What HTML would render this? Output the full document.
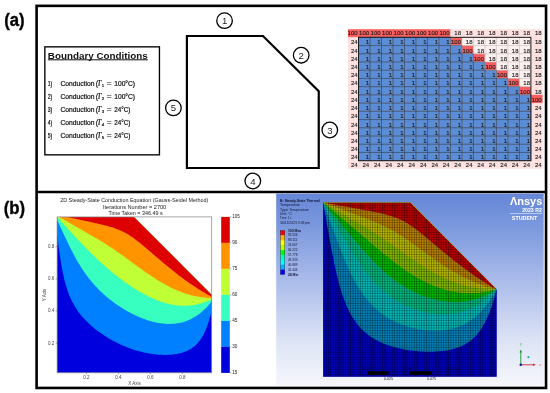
<!DOCTYPE html>
<html><head><meta charset="utf-8"><style>
html,body{margin:0;padding:0;background:#fff;}
body{width:550px;height:393px;overflow:hidden;position:relative;}
svg{position:absolute;left:0;top:0;will-change:transform;}
</style></head><body>
<svg width="550" height="393" viewBox="0 0 550 393">
<rect x="36.6" y="5.85" width="509.45" height="382.1" fill="none" stroke="#000" stroke-width="2.6"/>
<line x1="36" y1="192.0" x2="546" y2="192.0" stroke="#000" stroke-width="2.6"/>
<text x="4.2" y="25.6" font-family="'Liberation Sans', sans-serif" font-weight="bold" font-size="17.5" stroke="#000" stroke-width="0.35" textLength="20.4" lengthAdjust="spacingAndGlyphs">(a)</text>
<text x="3.8" y="213.7" font-family="'Liberation Sans', sans-serif" font-weight="bold" font-size="17.5" stroke="#000" stroke-width="0.35" textLength="21.4" lengthAdjust="spacingAndGlyphs">(b)</text>
<rect x="44.85" y="46.85" width="114.6" height="108" fill="#fff" stroke="#000" stroke-width="1.35"/>
<text x="47.8" y="58.7" font-family="'Liberation Sans', sans-serif" font-weight="bold" font-size="9.6" fill="#111" textLength="100" lengthAdjust="spacingAndGlyphs">Boundary Conditions</text>
<rect x="47.8" y="59.3" width="100" height="1" fill="#111"/>
<g font-family="'Liberation Sans', sans-serif" font-size="6.5" fill="#111" stroke="#111" stroke-width="0.2">
<text x="47.7" y="85.8" textLength="4.5" lengthAdjust="spacingAndGlyphs">1)</text>
<text x="60.4" y="85.8" textLength="34" lengthAdjust="spacingAndGlyphs">Conduction</text>
<text x="95.7" y="85.8">(</text>
<text x="96.9" y="85.8" font-family="'Liberation Serif', serif" font-style="italic" font-size="7.6">T</text>
<text x="101.8" y="87.2" font-size="4.4">1</text>
<text x="106.8" y="85.8" textLength="4.8" lengthAdjust="spacingAndGlyphs">=</text>
<text x="114.2" y="85.8" textLength="20.9" lengthAdjust="spacingAndGlyphs">100°C)</text>
</g>
<g font-family="'Liberation Sans', sans-serif" font-size="6.5" fill="#111" stroke="#111" stroke-width="0.2">
<text x="47.7" y="98.8" textLength="4.5" lengthAdjust="spacingAndGlyphs">2)</text>
<text x="60.4" y="98.8" textLength="34" lengthAdjust="spacingAndGlyphs">Conduction</text>
<text x="95.7" y="98.8">(</text>
<text x="96.9" y="98.8" font-family="'Liberation Serif', serif" font-style="italic" font-size="7.6">T</text>
<text x="101.8" y="100.2" font-size="4.4">2</text>
<text x="106.8" y="98.8" textLength="4.8" lengthAdjust="spacingAndGlyphs">=</text>
<text x="114.2" y="98.8" textLength="20.9" lengthAdjust="spacingAndGlyphs">100°C)</text>
</g>
<g font-family="'Liberation Sans', sans-serif" font-size="6.5" fill="#111" stroke="#111" stroke-width="0.2">
<text x="47.7" y="111.8" textLength="4.5" lengthAdjust="spacingAndGlyphs">3)</text>
<text x="60.4" y="111.8" textLength="34" lengthAdjust="spacingAndGlyphs">Conduction</text>
<text x="95.7" y="111.8">(</text>
<text x="96.9" y="111.8" font-family="'Liberation Serif', serif" font-style="italic" font-size="7.6">T</text>
<text x="101.8" y="113.2" font-size="4.4">3</text>
<text x="106.8" y="111.8" textLength="4.8" lengthAdjust="spacingAndGlyphs">=</text>
<text x="114.2" y="111.8" textLength="16.2" lengthAdjust="spacingAndGlyphs">24°C)</text>
</g>
<g font-family="'Liberation Sans', sans-serif" font-size="6.5" fill="#111" stroke="#111" stroke-width="0.2">
<text x="47.7" y="124.8" textLength="4.5" lengthAdjust="spacingAndGlyphs">4)</text>
<text x="60.4" y="124.8" textLength="34" lengthAdjust="spacingAndGlyphs">Conduction</text>
<text x="95.7" y="124.8">(</text>
<text x="96.9" y="124.8" font-family="'Liberation Serif', serif" font-style="italic" font-size="7.6">T</text>
<text x="101.8" y="126.2" font-size="4.4">4</text>
<text x="106.8" y="124.8" textLength="4.8" lengthAdjust="spacingAndGlyphs">=</text>
<text x="114.2" y="124.8" textLength="16.2" lengthAdjust="spacingAndGlyphs">24°C)</text>
</g>
<g font-family="'Liberation Sans', sans-serif" font-size="6.5" fill="#111" stroke="#111" stroke-width="0.2">
<text x="47.7" y="137.8" textLength="4.5" lengthAdjust="spacingAndGlyphs">5)</text>
<text x="60.4" y="137.8" textLength="34" lengthAdjust="spacingAndGlyphs">Conduction</text>
<text x="95.7" y="137.8">(</text>
<text x="96.9" y="137.8" font-family="'Liberation Serif', serif" font-style="italic" font-size="7.6">T</text>
<text x="101.8" y="139.2" font-size="4.4">5</text>
<text x="106.8" y="137.8" textLength="4.8" lengthAdjust="spacingAndGlyphs">=</text>
<text x="114.2" y="137.8" textLength="16.2" lengthAdjust="spacingAndGlyphs">24°C)</text>
</g>
<polygon points="186.9,36 263,36 318.75,91.3 318.75,168.0 186.9,168.0" fill="none" stroke="#000" stroke-width="2.2" stroke-linejoin="miter"/>
<circle cx="224.55" cy="20.65" r="7.8" fill="none" stroke="#000" stroke-width="1.3"/>
<text x="224.55" y="24.1" font-family="'Liberation Sans', sans-serif" font-size="9.6" text-anchor="middle" fill="#222">1</text>
<circle cx="301.2" cy="55.2" r="7.8" fill="none" stroke="#000" stroke-width="1.3"/>
<text x="301.2" y="58.7" font-family="'Liberation Sans', sans-serif" font-size="9.6" text-anchor="middle" fill="#222">2</text>
<circle cx="329.8" cy="130" r="7.8" fill="none" stroke="#000" stroke-width="1.3"/>
<text x="329.8" y="133.5" font-family="'Liberation Sans', sans-serif" font-size="9.6" text-anchor="middle" fill="#222">3</text>
<circle cx="252.8" cy="181" r="7.8" fill="none" stroke="#000" stroke-width="1.3"/>
<text x="252.8" y="184.5" font-family="'Liberation Sans', sans-serif" font-size="9.6" text-anchor="middle" fill="#222">4</text>
<circle cx="173.4" cy="107.9" r="7.8" fill="none" stroke="#000" stroke-width="1.3"/>
<text x="173.4" y="111.4" font-family="'Liberation Sans', sans-serif" font-size="9.6" text-anchor="middle" fill="#222">5</text>
<rect x="348.00" y="29.20" width="10.85" height="8.45" fill="#fa5e5e"/><rect x="358.50" y="29.20" width="11.84" height="8.45" fill="#fa5e5e"/><rect x="369.99" y="29.20" width="11.84" height="8.45" fill="#fa5e5e"/><rect x="381.49" y="29.20" width="11.84" height="8.45" fill="#fa5e5e"/><rect x="392.98" y="29.20" width="11.84" height="8.45" fill="#fa5e5e"/><rect x="404.47" y="29.20" width="11.84" height="8.45" fill="#fa5e5e"/><rect x="415.97" y="29.20" width="11.84" height="8.45" fill="#fa5e5e"/><rect x="427.46" y="29.20" width="11.84" height="8.45" fill="#fa5e5e"/><rect x="438.95" y="29.20" width="11.84" height="8.45" fill="#fa5e5e"/><rect x="450.44" y="29.20" width="11.84" height="8.45" fill="#fde0e0"/><rect x="461.94" y="29.20" width="11.84" height="8.45" fill="#fde0e0"/><rect x="473.43" y="29.20" width="11.84" height="8.45" fill="#fde0e0"/><rect x="484.92" y="29.20" width="11.84" height="8.45" fill="#fde0e0"/><rect x="496.42" y="29.20" width="11.84" height="8.45" fill="#fde0e0"/><rect x="507.91" y="29.20" width="11.84" height="8.45" fill="#fde0e0"/><rect x="519.40" y="29.20" width="11.85" height="8.45" fill="#fde0e0"/><rect x="530.90" y="29.20" width="11.70" height="8.45" fill="#fde0e0"/><rect x="348.00" y="37.30" width="10.85" height="8.58" fill="#fde0e0"/><rect x="358.50" y="37.30" width="11.84" height="8.58" fill="#5b8dd6"/><rect x="369.99" y="37.30" width="11.84" height="8.58" fill="#5b8dd6"/><rect x="381.49" y="37.30" width="11.84" height="8.58" fill="#5b8dd6"/><rect x="392.98" y="37.30" width="11.84" height="8.58" fill="#5b8dd6"/><rect x="404.47" y="37.30" width="11.84" height="8.58" fill="#5b8dd6"/><rect x="415.97" y="37.30" width="11.84" height="8.58" fill="#5b8dd6"/><rect x="427.46" y="37.30" width="11.84" height="8.58" fill="#5b8dd6"/><rect x="438.95" y="37.30" width="11.84" height="8.58" fill="#5b8dd6"/><rect x="450.44" y="37.30" width="11.84" height="8.58" fill="#fa5e5e"/><rect x="461.94" y="37.30" width="11.84" height="8.58" fill="#fdf0f0"/><rect x="473.43" y="37.30" width="11.84" height="8.58" fill="#fdf0f0"/><rect x="484.92" y="37.30" width="11.84" height="8.58" fill="#fdf0f0"/><rect x="496.42" y="37.30" width="11.84" height="8.58" fill="#fdf0f0"/><rect x="507.91" y="37.30" width="11.84" height="8.58" fill="#fdf0f0"/><rect x="519.40" y="37.30" width="11.85" height="8.58" fill="#fdf0f0"/><rect x="530.90" y="37.30" width="11.70" height="8.58" fill="#fde0e0"/><rect x="348.00" y="45.53" width="10.85" height="8.58" fill="#fde0e0"/><rect x="358.50" y="45.53" width="11.84" height="8.58" fill="#5b8dd6"/><rect x="369.99" y="45.53" width="11.84" height="8.58" fill="#5b8dd6"/><rect x="381.49" y="45.53" width="11.84" height="8.58" fill="#5b8dd6"/><rect x="392.98" y="45.53" width="11.84" height="8.58" fill="#5b8dd6"/><rect x="404.47" y="45.53" width="11.84" height="8.58" fill="#5b8dd6"/><rect x="415.97" y="45.53" width="11.84" height="8.58" fill="#5b8dd6"/><rect x="427.46" y="45.53" width="11.84" height="8.58" fill="#5b8dd6"/><rect x="438.95" y="45.53" width="11.84" height="8.58" fill="#5b8dd6"/><rect x="450.44" y="45.53" width="11.84" height="8.58" fill="#5b8dd6"/><rect x="461.94" y="45.53" width="11.84" height="8.58" fill="#fa5e5e"/><rect x="473.43" y="45.53" width="11.84" height="8.58" fill="#fdf0f0"/><rect x="484.92" y="45.53" width="11.84" height="8.58" fill="#fdf0f0"/><rect x="496.42" y="45.53" width="11.84" height="8.58" fill="#fdf0f0"/><rect x="507.91" y="45.53" width="11.84" height="8.58" fill="#fdf0f0"/><rect x="519.40" y="45.53" width="11.85" height="8.58" fill="#fdf0f0"/><rect x="530.90" y="45.53" width="11.70" height="8.58" fill="#fde0e0"/><rect x="348.00" y="53.75" width="10.85" height="8.58" fill="#fde0e0"/><rect x="358.50" y="53.75" width="11.84" height="8.58" fill="#5b8dd6"/><rect x="369.99" y="53.75" width="11.84" height="8.58" fill="#5b8dd6"/><rect x="381.49" y="53.75" width="11.84" height="8.58" fill="#5b8dd6"/><rect x="392.98" y="53.75" width="11.84" height="8.58" fill="#5b8dd6"/><rect x="404.47" y="53.75" width="11.84" height="8.58" fill="#5b8dd6"/><rect x="415.97" y="53.75" width="11.84" height="8.58" fill="#5b8dd6"/><rect x="427.46" y="53.75" width="11.84" height="8.58" fill="#5b8dd6"/><rect x="438.95" y="53.75" width="11.84" height="8.58" fill="#5b8dd6"/><rect x="450.44" y="53.75" width="11.84" height="8.58" fill="#5b8dd6"/><rect x="461.94" y="53.75" width="11.84" height="8.58" fill="#5b8dd6"/><rect x="473.43" y="53.75" width="11.84" height="8.58" fill="#fa5e5e"/><rect x="484.92" y="53.75" width="11.84" height="8.58" fill="#fdf0f0"/><rect x="496.42" y="53.75" width="11.84" height="8.58" fill="#fdf0f0"/><rect x="507.91" y="53.75" width="11.84" height="8.58" fill="#fdf0f0"/><rect x="519.40" y="53.75" width="11.85" height="8.58" fill="#fdf0f0"/><rect x="530.90" y="53.75" width="11.70" height="8.58" fill="#fde0e0"/><rect x="348.00" y="61.98" width="10.85" height="8.58" fill="#fde0e0"/><rect x="358.50" y="61.98" width="11.84" height="8.58" fill="#5b8dd6"/><rect x="369.99" y="61.98" width="11.84" height="8.58" fill="#5b8dd6"/><rect x="381.49" y="61.98" width="11.84" height="8.58" fill="#5b8dd6"/><rect x="392.98" y="61.98" width="11.84" height="8.58" fill="#5b8dd6"/><rect x="404.47" y="61.98" width="11.84" height="8.58" fill="#5b8dd6"/><rect x="415.97" y="61.98" width="11.84" height="8.58" fill="#5b8dd6"/><rect x="427.46" y="61.98" width="11.84" height="8.58" fill="#5b8dd6"/><rect x="438.95" y="61.98" width="11.84" height="8.58" fill="#5b8dd6"/><rect x="450.44" y="61.98" width="11.84" height="8.58" fill="#5b8dd6"/><rect x="461.94" y="61.98" width="11.84" height="8.58" fill="#5b8dd6"/><rect x="473.43" y="61.98" width="11.84" height="8.58" fill="#5b8dd6"/><rect x="484.92" y="61.98" width="11.84" height="8.58" fill="#fa5e5e"/><rect x="496.42" y="61.98" width="11.84" height="8.58" fill="#fdf0f0"/><rect x="507.91" y="61.98" width="11.84" height="8.58" fill="#fdf0f0"/><rect x="519.40" y="61.98" width="11.85" height="8.58" fill="#fdf0f0"/><rect x="530.90" y="61.98" width="11.70" height="8.58" fill="#fde0e0"/><rect x="348.00" y="70.21" width="10.85" height="8.58" fill="#fde0e0"/><rect x="358.50" y="70.21" width="11.84" height="8.58" fill="#5b8dd6"/><rect x="369.99" y="70.21" width="11.84" height="8.58" fill="#5b8dd6"/><rect x="381.49" y="70.21" width="11.84" height="8.58" fill="#5b8dd6"/><rect x="392.98" y="70.21" width="11.84" height="8.58" fill="#5b8dd6"/><rect x="404.47" y="70.21" width="11.84" height="8.58" fill="#5b8dd6"/><rect x="415.97" y="70.21" width="11.84" height="8.58" fill="#5b8dd6"/><rect x="427.46" y="70.21" width="11.84" height="8.58" fill="#5b8dd6"/><rect x="438.95" y="70.21" width="11.84" height="8.58" fill="#5b8dd6"/><rect x="450.44" y="70.21" width="11.84" height="8.58" fill="#5b8dd6"/><rect x="461.94" y="70.21" width="11.84" height="8.58" fill="#5b8dd6"/><rect x="473.43" y="70.21" width="11.84" height="8.58" fill="#5b8dd6"/><rect x="484.92" y="70.21" width="11.84" height="8.58" fill="#5b8dd6"/><rect x="496.42" y="70.21" width="11.84" height="8.58" fill="#fa5e5e"/><rect x="507.91" y="70.21" width="11.84" height="8.58" fill="#fdf0f0"/><rect x="519.40" y="70.21" width="11.85" height="8.58" fill="#fdf0f0"/><rect x="530.90" y="70.21" width="11.70" height="8.58" fill="#fde0e0"/><rect x="348.00" y="78.44" width="10.85" height="8.58" fill="#fde0e0"/><rect x="358.50" y="78.44" width="11.84" height="8.58" fill="#5b8dd6"/><rect x="369.99" y="78.44" width="11.84" height="8.58" fill="#5b8dd6"/><rect x="381.49" y="78.44" width="11.84" height="8.58" fill="#5b8dd6"/><rect x="392.98" y="78.44" width="11.84" height="8.58" fill="#5b8dd6"/><rect x="404.47" y="78.44" width="11.84" height="8.58" fill="#5b8dd6"/><rect x="415.97" y="78.44" width="11.84" height="8.58" fill="#5b8dd6"/><rect x="427.46" y="78.44" width="11.84" height="8.58" fill="#5b8dd6"/><rect x="438.95" y="78.44" width="11.84" height="8.58" fill="#5b8dd6"/><rect x="450.44" y="78.44" width="11.84" height="8.58" fill="#5b8dd6"/><rect x="461.94" y="78.44" width="11.84" height="8.58" fill="#5b8dd6"/><rect x="473.43" y="78.44" width="11.84" height="8.58" fill="#5b8dd6"/><rect x="484.92" y="78.44" width="11.84" height="8.58" fill="#5b8dd6"/><rect x="496.42" y="78.44" width="11.84" height="8.58" fill="#5b8dd6"/><rect x="507.91" y="78.44" width="11.84" height="8.58" fill="#fa5e5e"/><rect x="519.40" y="78.44" width="11.85" height="8.58" fill="#fdf0f0"/><rect x="530.90" y="78.44" width="11.70" height="8.58" fill="#fde0e0"/><rect x="348.00" y="86.66" width="10.85" height="8.58" fill="#fde0e0"/><rect x="358.50" y="86.66" width="11.84" height="8.58" fill="#5b8dd6"/><rect x="369.99" y="86.66" width="11.84" height="8.58" fill="#5b8dd6"/><rect x="381.49" y="86.66" width="11.84" height="8.58" fill="#5b8dd6"/><rect x="392.98" y="86.66" width="11.84" height="8.58" fill="#5b8dd6"/><rect x="404.47" y="86.66" width="11.84" height="8.58" fill="#5b8dd6"/><rect x="415.97" y="86.66" width="11.84" height="8.58" fill="#5b8dd6"/><rect x="427.46" y="86.66" width="11.84" height="8.58" fill="#5b8dd6"/><rect x="438.95" y="86.66" width="11.84" height="8.58" fill="#5b8dd6"/><rect x="450.44" y="86.66" width="11.84" height="8.58" fill="#5b8dd6"/><rect x="461.94" y="86.66" width="11.84" height="8.58" fill="#5b8dd6"/><rect x="473.43" y="86.66" width="11.84" height="8.58" fill="#5b8dd6"/><rect x="484.92" y="86.66" width="11.84" height="8.58" fill="#5b8dd6"/><rect x="496.42" y="86.66" width="11.84" height="8.58" fill="#5b8dd6"/><rect x="507.91" y="86.66" width="11.84" height="8.58" fill="#5b8dd6"/><rect x="519.40" y="86.66" width="11.85" height="8.58" fill="#fa5e5e"/><rect x="530.90" y="86.66" width="11.70" height="8.58" fill="#fde0e0"/><rect x="348.00" y="94.89" width="10.85" height="8.58" fill="#fde0e0"/><rect x="358.50" y="94.89" width="11.84" height="8.58" fill="#5b8dd6"/><rect x="369.99" y="94.89" width="11.84" height="8.58" fill="#5b8dd6"/><rect x="381.49" y="94.89" width="11.84" height="8.58" fill="#5b8dd6"/><rect x="392.98" y="94.89" width="11.84" height="8.58" fill="#5b8dd6"/><rect x="404.47" y="94.89" width="11.84" height="8.58" fill="#5b8dd6"/><rect x="415.97" y="94.89" width="11.84" height="8.58" fill="#5b8dd6"/><rect x="427.46" y="94.89" width="11.84" height="8.58" fill="#5b8dd6"/><rect x="438.95" y="94.89" width="11.84" height="8.58" fill="#5b8dd6"/><rect x="450.44" y="94.89" width="11.84" height="8.58" fill="#5b8dd6"/><rect x="461.94" y="94.89" width="11.84" height="8.58" fill="#5b8dd6"/><rect x="473.43" y="94.89" width="11.84" height="8.58" fill="#5b8dd6"/><rect x="484.92" y="94.89" width="11.84" height="8.58" fill="#5b8dd6"/><rect x="496.42" y="94.89" width="11.84" height="8.58" fill="#5b8dd6"/><rect x="507.91" y="94.89" width="11.84" height="8.58" fill="#5b8dd6"/><rect x="519.40" y="94.89" width="11.85" height="8.58" fill="#5b8dd6"/><rect x="530.90" y="94.89" width="11.70" height="8.58" fill="#fa5e5e"/><rect x="348.00" y="103.12" width="10.85" height="8.58" fill="#fde0e0"/><rect x="358.50" y="103.12" width="11.84" height="8.58" fill="#5b8dd6"/><rect x="369.99" y="103.12" width="11.84" height="8.58" fill="#5b8dd6"/><rect x="381.49" y="103.12" width="11.84" height="8.58" fill="#5b8dd6"/><rect x="392.98" y="103.12" width="11.84" height="8.58" fill="#5b8dd6"/><rect x="404.47" y="103.12" width="11.84" height="8.58" fill="#5b8dd6"/><rect x="415.97" y="103.12" width="11.84" height="8.58" fill="#5b8dd6"/><rect x="427.46" y="103.12" width="11.84" height="8.58" fill="#5b8dd6"/><rect x="438.95" y="103.12" width="11.84" height="8.58" fill="#5b8dd6"/><rect x="450.44" y="103.12" width="11.84" height="8.58" fill="#5b8dd6"/><rect x="461.94" y="103.12" width="11.84" height="8.58" fill="#5b8dd6"/><rect x="473.43" y="103.12" width="11.84" height="8.58" fill="#5b8dd6"/><rect x="484.92" y="103.12" width="11.84" height="8.58" fill="#5b8dd6"/><rect x="496.42" y="103.12" width="11.84" height="8.58" fill="#5b8dd6"/><rect x="507.91" y="103.12" width="11.84" height="8.58" fill="#5b8dd6"/><rect x="519.40" y="103.12" width="11.85" height="8.58" fill="#5b8dd6"/><rect x="530.90" y="103.12" width="11.70" height="8.58" fill="#fde0e0"/><rect x="348.00" y="111.34" width="10.85" height="8.58" fill="#fde0e0"/><rect x="358.50" y="111.34" width="11.84" height="8.58" fill="#5b8dd6"/><rect x="369.99" y="111.34" width="11.84" height="8.58" fill="#5b8dd6"/><rect x="381.49" y="111.34" width="11.84" height="8.58" fill="#5b8dd6"/><rect x="392.98" y="111.34" width="11.84" height="8.58" fill="#5b8dd6"/><rect x="404.47" y="111.34" width="11.84" height="8.58" fill="#5b8dd6"/><rect x="415.97" y="111.34" width="11.84" height="8.58" fill="#5b8dd6"/><rect x="427.46" y="111.34" width="11.84" height="8.58" fill="#5b8dd6"/><rect x="438.95" y="111.34" width="11.84" height="8.58" fill="#5b8dd6"/><rect x="450.44" y="111.34" width="11.84" height="8.58" fill="#5b8dd6"/><rect x="461.94" y="111.34" width="11.84" height="8.58" fill="#5b8dd6"/><rect x="473.43" y="111.34" width="11.84" height="8.58" fill="#5b8dd6"/><rect x="484.92" y="111.34" width="11.84" height="8.58" fill="#5b8dd6"/><rect x="496.42" y="111.34" width="11.84" height="8.58" fill="#5b8dd6"/><rect x="507.91" y="111.34" width="11.84" height="8.58" fill="#5b8dd6"/><rect x="519.40" y="111.34" width="11.85" height="8.58" fill="#5b8dd6"/><rect x="530.90" y="111.34" width="11.70" height="8.58" fill="#fde0e0"/><rect x="348.00" y="119.57" width="10.85" height="8.58" fill="#fde0e0"/><rect x="358.50" y="119.57" width="11.84" height="8.58" fill="#5b8dd6"/><rect x="369.99" y="119.57" width="11.84" height="8.58" fill="#5b8dd6"/><rect x="381.49" y="119.57" width="11.84" height="8.58" fill="#5b8dd6"/><rect x="392.98" y="119.57" width="11.84" height="8.58" fill="#5b8dd6"/><rect x="404.47" y="119.57" width="11.84" height="8.58" fill="#5b8dd6"/><rect x="415.97" y="119.57" width="11.84" height="8.58" fill="#5b8dd6"/><rect x="427.46" y="119.57" width="11.84" height="8.58" fill="#5b8dd6"/><rect x="438.95" y="119.57" width="11.84" height="8.58" fill="#5b8dd6"/><rect x="450.44" y="119.57" width="11.84" height="8.58" fill="#5b8dd6"/><rect x="461.94" y="119.57" width="11.84" height="8.58" fill="#5b8dd6"/><rect x="473.43" y="119.57" width="11.84" height="8.58" fill="#5b8dd6"/><rect x="484.92" y="119.57" width="11.84" height="8.58" fill="#5b8dd6"/><rect x="496.42" y="119.57" width="11.84" height="8.58" fill="#5b8dd6"/><rect x="507.91" y="119.57" width="11.84" height="8.58" fill="#5b8dd6"/><rect x="519.40" y="119.57" width="11.85" height="8.58" fill="#5b8dd6"/><rect x="530.90" y="119.57" width="11.70" height="8.58" fill="#fde0e0"/><rect x="348.00" y="127.80" width="10.85" height="8.58" fill="#fde0e0"/><rect x="358.50" y="127.80" width="11.84" height="8.58" fill="#5b8dd6"/><rect x="369.99" y="127.80" width="11.84" height="8.58" fill="#5b8dd6"/><rect x="381.49" y="127.80" width="11.84" height="8.58" fill="#5b8dd6"/><rect x="392.98" y="127.80" width="11.84" height="8.58" fill="#5b8dd6"/><rect x="404.47" y="127.80" width="11.84" height="8.58" fill="#5b8dd6"/><rect x="415.97" y="127.80" width="11.84" height="8.58" fill="#5b8dd6"/><rect x="427.46" y="127.80" width="11.84" height="8.58" fill="#5b8dd6"/><rect x="438.95" y="127.80" width="11.84" height="8.58" fill="#5b8dd6"/><rect x="450.44" y="127.80" width="11.84" height="8.58" fill="#5b8dd6"/><rect x="461.94" y="127.80" width="11.84" height="8.58" fill="#5b8dd6"/><rect x="473.43" y="127.80" width="11.84" height="8.58" fill="#5b8dd6"/><rect x="484.92" y="127.80" width="11.84" height="8.58" fill="#5b8dd6"/><rect x="496.42" y="127.80" width="11.84" height="8.58" fill="#5b8dd6"/><rect x="507.91" y="127.80" width="11.84" height="8.58" fill="#5b8dd6"/><rect x="519.40" y="127.80" width="11.85" height="8.58" fill="#5b8dd6"/><rect x="530.90" y="127.80" width="11.70" height="8.58" fill="#fde0e0"/><rect x="348.00" y="136.02" width="10.85" height="8.58" fill="#fde0e0"/><rect x="358.50" y="136.02" width="11.84" height="8.58" fill="#5b8dd6"/><rect x="369.99" y="136.02" width="11.84" height="8.58" fill="#5b8dd6"/><rect x="381.49" y="136.02" width="11.84" height="8.58" fill="#5b8dd6"/><rect x="392.98" y="136.02" width="11.84" height="8.58" fill="#5b8dd6"/><rect x="404.47" y="136.02" width="11.84" height="8.58" fill="#5b8dd6"/><rect x="415.97" y="136.02" width="11.84" height="8.58" fill="#5b8dd6"/><rect x="427.46" y="136.02" width="11.84" height="8.58" fill="#5b8dd6"/><rect x="438.95" y="136.02" width="11.84" height="8.58" fill="#5b8dd6"/><rect x="450.44" y="136.02" width="11.84" height="8.58" fill="#5b8dd6"/><rect x="461.94" y="136.02" width="11.84" height="8.58" fill="#5b8dd6"/><rect x="473.43" y="136.02" width="11.84" height="8.58" fill="#5b8dd6"/><rect x="484.92" y="136.02" width="11.84" height="8.58" fill="#5b8dd6"/><rect x="496.42" y="136.02" width="11.84" height="8.58" fill="#5b8dd6"/><rect x="507.91" y="136.02" width="11.84" height="8.58" fill="#5b8dd6"/><rect x="519.40" y="136.02" width="11.85" height="8.58" fill="#5b8dd6"/><rect x="530.90" y="136.02" width="11.70" height="8.58" fill="#fde0e0"/><rect x="348.00" y="144.25" width="10.85" height="8.58" fill="#fde0e0"/><rect x="358.50" y="144.25" width="11.84" height="8.58" fill="#5b8dd6"/><rect x="369.99" y="144.25" width="11.84" height="8.58" fill="#5b8dd6"/><rect x="381.49" y="144.25" width="11.84" height="8.58" fill="#5b8dd6"/><rect x="392.98" y="144.25" width="11.84" height="8.58" fill="#5b8dd6"/><rect x="404.47" y="144.25" width="11.84" height="8.58" fill="#5b8dd6"/><rect x="415.97" y="144.25" width="11.84" height="8.58" fill="#5b8dd6"/><rect x="427.46" y="144.25" width="11.84" height="8.58" fill="#5b8dd6"/><rect x="438.95" y="144.25" width="11.84" height="8.58" fill="#5b8dd6"/><rect x="450.44" y="144.25" width="11.84" height="8.58" fill="#5b8dd6"/><rect x="461.94" y="144.25" width="11.84" height="8.58" fill="#5b8dd6"/><rect x="473.43" y="144.25" width="11.84" height="8.58" fill="#5b8dd6"/><rect x="484.92" y="144.25" width="11.84" height="8.58" fill="#5b8dd6"/><rect x="496.42" y="144.25" width="11.84" height="8.58" fill="#5b8dd6"/><rect x="507.91" y="144.25" width="11.84" height="8.58" fill="#5b8dd6"/><rect x="519.40" y="144.25" width="11.85" height="8.58" fill="#5b8dd6"/><rect x="530.90" y="144.25" width="11.70" height="8.58" fill="#fde0e0"/><rect x="348.00" y="152.48" width="10.85" height="8.57" fill="#fde0e0"/><rect x="358.50" y="152.48" width="11.84" height="8.57" fill="#5b8dd6"/><rect x="369.99" y="152.48" width="11.84" height="8.57" fill="#5b8dd6"/><rect x="381.49" y="152.48" width="11.84" height="8.57" fill="#5b8dd6"/><rect x="392.98" y="152.48" width="11.84" height="8.57" fill="#5b8dd6"/><rect x="404.47" y="152.48" width="11.84" height="8.57" fill="#5b8dd6"/><rect x="415.97" y="152.48" width="11.84" height="8.57" fill="#5b8dd6"/><rect x="427.46" y="152.48" width="11.84" height="8.57" fill="#5b8dd6"/><rect x="438.95" y="152.48" width="11.84" height="8.57" fill="#5b8dd6"/><rect x="450.44" y="152.48" width="11.84" height="8.57" fill="#5b8dd6"/><rect x="461.94" y="152.48" width="11.84" height="8.57" fill="#5b8dd6"/><rect x="473.43" y="152.48" width="11.84" height="8.57" fill="#5b8dd6"/><rect x="484.92" y="152.48" width="11.84" height="8.57" fill="#5b8dd6"/><rect x="496.42" y="152.48" width="11.84" height="8.57" fill="#5b8dd6"/><rect x="507.91" y="152.48" width="11.84" height="8.57" fill="#5b8dd6"/><rect x="519.40" y="152.48" width="11.85" height="8.57" fill="#5b8dd6"/><rect x="530.90" y="152.48" width="11.70" height="8.57" fill="#fde0e0"/><rect x="348.00" y="160.70" width="10.85" height="8.00" fill="#fde0e0"/><rect x="358.50" y="160.70" width="11.84" height="8.00" fill="#fde0e0"/><rect x="369.99" y="160.70" width="11.84" height="8.00" fill="#fde0e0"/><rect x="381.49" y="160.70" width="11.84" height="8.00" fill="#fde0e0"/><rect x="392.98" y="160.70" width="11.84" height="8.00" fill="#fde0e0"/><rect x="404.47" y="160.70" width="11.84" height="8.00" fill="#fde0e0"/><rect x="415.97" y="160.70" width="11.84" height="8.00" fill="#fde0e0"/><rect x="427.46" y="160.70" width="11.84" height="8.00" fill="#fde0e0"/><rect x="438.95" y="160.70" width="11.84" height="8.00" fill="#fde0e0"/><rect x="450.44" y="160.70" width="11.84" height="8.00" fill="#fde0e0"/><rect x="461.94" y="160.70" width="11.84" height="8.00" fill="#fde0e0"/><rect x="473.43" y="160.70" width="11.84" height="8.00" fill="#fde0e0"/><rect x="484.92" y="160.70" width="11.84" height="8.00" fill="#fde0e0"/><rect x="496.42" y="160.70" width="11.84" height="8.00" fill="#fde0e0"/><rect x="507.91" y="160.70" width="11.84" height="8.00" fill="#fde0e0"/><rect x="519.40" y="160.70" width="11.85" height="8.00" fill="#fde0e0"/><rect x="530.90" y="160.70" width="11.70" height="8.00" fill="#fde0e0"/>
<path d="M358.50 37.30V160.70M369.99 37.30V160.70M381.49 37.30V160.70M392.98 37.30V160.70M404.47 37.30V160.70M415.97 37.30V160.70M427.46 37.30V160.70M438.95 37.30V160.70M450.44 37.30V160.70M461.94 37.30V160.70M473.43 37.30V160.70M484.92 37.30V160.70M496.42 37.30V160.70M507.91 37.30V160.70M519.40 37.30V160.70M530.90 37.30V160.70M358.50 37.30H530.90M358.50 45.53H530.90M358.50 53.75H530.90M358.50 61.98H530.90M358.50 70.21H530.90M358.50 78.44H530.90M358.50 86.66H530.90M358.50 94.89H530.90M358.50 103.12H530.90M358.50 111.34H530.90M358.50 119.57H530.90M358.50 127.80H530.90M358.50 136.02H530.90M358.50 144.25H530.90M358.50 152.48H530.90M358.50 160.70H530.90" stroke="#c4bcbc" stroke-width="0.6" fill="none"/>
<path d="M358.50 37.30h11.49v8.23h-11.49zM369.99 37.30h11.49v8.23h-11.49zM381.49 37.30h11.49v8.23h-11.49zM392.98 37.30h11.49v8.23h-11.49zM404.47 37.30h11.49v8.23h-11.49zM415.97 37.30h11.49v8.23h-11.49zM427.46 37.30h11.49v8.23h-11.49zM438.95 37.30h11.49v8.23h-11.49zM358.50 45.53h11.49v8.23h-11.49zM369.99 45.53h11.49v8.23h-11.49zM381.49 45.53h11.49v8.23h-11.49zM392.98 45.53h11.49v8.23h-11.49zM404.47 45.53h11.49v8.23h-11.49zM415.97 45.53h11.49v8.23h-11.49zM427.46 45.53h11.49v8.23h-11.49zM438.95 45.53h11.49v8.23h-11.49zM450.44 45.53h11.49v8.23h-11.49zM358.50 53.75h11.49v8.23h-11.49zM369.99 53.75h11.49v8.23h-11.49zM381.49 53.75h11.49v8.23h-11.49zM392.98 53.75h11.49v8.23h-11.49zM404.47 53.75h11.49v8.23h-11.49zM415.97 53.75h11.49v8.23h-11.49zM427.46 53.75h11.49v8.23h-11.49zM438.95 53.75h11.49v8.23h-11.49zM450.44 53.75h11.49v8.23h-11.49zM461.94 53.75h11.49v8.23h-11.49zM358.50 61.98h11.49v8.23h-11.49zM369.99 61.98h11.49v8.23h-11.49zM381.49 61.98h11.49v8.23h-11.49zM392.98 61.98h11.49v8.23h-11.49zM404.47 61.98h11.49v8.23h-11.49zM415.97 61.98h11.49v8.23h-11.49zM427.46 61.98h11.49v8.23h-11.49zM438.95 61.98h11.49v8.23h-11.49zM450.44 61.98h11.49v8.23h-11.49zM461.94 61.98h11.49v8.23h-11.49zM473.43 61.98h11.49v8.23h-11.49zM358.50 70.21h11.49v8.23h-11.49zM369.99 70.21h11.49v8.23h-11.49zM381.49 70.21h11.49v8.23h-11.49zM392.98 70.21h11.49v8.23h-11.49zM404.47 70.21h11.49v8.23h-11.49zM415.97 70.21h11.49v8.23h-11.49zM427.46 70.21h11.49v8.23h-11.49zM438.95 70.21h11.49v8.23h-11.49zM450.44 70.21h11.49v8.23h-11.49zM461.94 70.21h11.49v8.23h-11.49zM473.43 70.21h11.49v8.23h-11.49zM484.92 70.21h11.49v8.23h-11.49zM358.50 78.44h11.49v8.23h-11.49zM369.99 78.44h11.49v8.23h-11.49zM381.49 78.44h11.49v8.23h-11.49zM392.98 78.44h11.49v8.23h-11.49zM404.47 78.44h11.49v8.23h-11.49zM415.97 78.44h11.49v8.23h-11.49zM427.46 78.44h11.49v8.23h-11.49zM438.95 78.44h11.49v8.23h-11.49zM450.44 78.44h11.49v8.23h-11.49zM461.94 78.44h11.49v8.23h-11.49zM473.43 78.44h11.49v8.23h-11.49zM484.92 78.44h11.49v8.23h-11.49zM496.42 78.44h11.49v8.23h-11.49zM358.50 86.66h11.49v8.23h-11.49zM369.99 86.66h11.49v8.23h-11.49zM381.49 86.66h11.49v8.23h-11.49zM392.98 86.66h11.49v8.23h-11.49zM404.47 86.66h11.49v8.23h-11.49zM415.97 86.66h11.49v8.23h-11.49zM427.46 86.66h11.49v8.23h-11.49zM438.95 86.66h11.49v8.23h-11.49zM450.44 86.66h11.49v8.23h-11.49zM461.94 86.66h11.49v8.23h-11.49zM473.43 86.66h11.49v8.23h-11.49zM484.92 86.66h11.49v8.23h-11.49zM496.42 86.66h11.49v8.23h-11.49zM507.91 86.66h11.49v8.23h-11.49zM358.50 94.89h11.49v8.23h-11.49zM369.99 94.89h11.49v8.23h-11.49zM381.49 94.89h11.49v8.23h-11.49zM392.98 94.89h11.49v8.23h-11.49zM404.47 94.89h11.49v8.23h-11.49zM415.97 94.89h11.49v8.23h-11.49zM427.46 94.89h11.49v8.23h-11.49zM438.95 94.89h11.49v8.23h-11.49zM450.44 94.89h11.49v8.23h-11.49zM461.94 94.89h11.49v8.23h-11.49zM473.43 94.89h11.49v8.23h-11.49zM484.92 94.89h11.49v8.23h-11.49zM496.42 94.89h11.49v8.23h-11.49zM507.91 94.89h11.49v8.23h-11.49zM519.40 94.89h11.50v8.23h-11.50zM358.50 103.12h11.49v8.23h-11.49zM369.99 103.12h11.49v8.23h-11.49zM381.49 103.12h11.49v8.23h-11.49zM392.98 103.12h11.49v8.23h-11.49zM404.47 103.12h11.49v8.23h-11.49zM415.97 103.12h11.49v8.23h-11.49zM427.46 103.12h11.49v8.23h-11.49zM438.95 103.12h11.49v8.23h-11.49zM450.44 103.12h11.49v8.23h-11.49zM461.94 103.12h11.49v8.23h-11.49zM473.43 103.12h11.49v8.23h-11.49zM484.92 103.12h11.49v8.23h-11.49zM496.42 103.12h11.49v8.23h-11.49zM507.91 103.12h11.49v8.23h-11.49zM519.40 103.12h11.50v8.23h-11.50zM358.50 111.34h11.49v8.23h-11.49zM369.99 111.34h11.49v8.23h-11.49zM381.49 111.34h11.49v8.23h-11.49zM392.98 111.34h11.49v8.23h-11.49zM404.47 111.34h11.49v8.23h-11.49zM415.97 111.34h11.49v8.23h-11.49zM427.46 111.34h11.49v8.23h-11.49zM438.95 111.34h11.49v8.23h-11.49zM450.44 111.34h11.49v8.23h-11.49zM461.94 111.34h11.49v8.23h-11.49zM473.43 111.34h11.49v8.23h-11.49zM484.92 111.34h11.49v8.23h-11.49zM496.42 111.34h11.49v8.23h-11.49zM507.91 111.34h11.49v8.23h-11.49zM519.40 111.34h11.50v8.23h-11.50zM358.50 119.57h11.49v8.23h-11.49zM369.99 119.57h11.49v8.23h-11.49zM381.49 119.57h11.49v8.23h-11.49zM392.98 119.57h11.49v8.23h-11.49zM404.47 119.57h11.49v8.23h-11.49zM415.97 119.57h11.49v8.23h-11.49zM427.46 119.57h11.49v8.23h-11.49zM438.95 119.57h11.49v8.23h-11.49zM450.44 119.57h11.49v8.23h-11.49zM461.94 119.57h11.49v8.23h-11.49zM473.43 119.57h11.49v8.23h-11.49zM484.92 119.57h11.49v8.23h-11.49zM496.42 119.57h11.49v8.23h-11.49zM507.91 119.57h11.49v8.23h-11.49zM519.40 119.57h11.50v8.23h-11.50zM358.50 127.80h11.49v8.23h-11.49zM369.99 127.80h11.49v8.23h-11.49zM381.49 127.80h11.49v8.23h-11.49zM392.98 127.80h11.49v8.23h-11.49zM404.47 127.80h11.49v8.23h-11.49zM415.97 127.80h11.49v8.23h-11.49zM427.46 127.80h11.49v8.23h-11.49zM438.95 127.80h11.49v8.23h-11.49zM450.44 127.80h11.49v8.23h-11.49zM461.94 127.80h11.49v8.23h-11.49zM473.43 127.80h11.49v8.23h-11.49zM484.92 127.80h11.49v8.23h-11.49zM496.42 127.80h11.49v8.23h-11.49zM507.91 127.80h11.49v8.23h-11.49zM519.40 127.80h11.50v8.23h-11.50zM358.50 136.02h11.49v8.23h-11.49zM369.99 136.02h11.49v8.23h-11.49zM381.49 136.02h11.49v8.23h-11.49zM392.98 136.02h11.49v8.23h-11.49zM404.47 136.02h11.49v8.23h-11.49zM415.97 136.02h11.49v8.23h-11.49zM427.46 136.02h11.49v8.23h-11.49zM438.95 136.02h11.49v8.23h-11.49zM450.44 136.02h11.49v8.23h-11.49zM461.94 136.02h11.49v8.23h-11.49zM473.43 136.02h11.49v8.23h-11.49zM484.92 136.02h11.49v8.23h-11.49zM496.42 136.02h11.49v8.23h-11.49zM507.91 136.02h11.49v8.23h-11.49zM519.40 136.02h11.50v8.23h-11.50zM358.50 144.25h11.49v8.23h-11.49zM369.99 144.25h11.49v8.23h-11.49zM381.49 144.25h11.49v8.23h-11.49zM392.98 144.25h11.49v8.23h-11.49zM404.47 144.25h11.49v8.23h-11.49zM415.97 144.25h11.49v8.23h-11.49zM427.46 144.25h11.49v8.23h-11.49zM438.95 144.25h11.49v8.23h-11.49zM450.44 144.25h11.49v8.23h-11.49zM461.94 144.25h11.49v8.23h-11.49zM473.43 144.25h11.49v8.23h-11.49zM484.92 144.25h11.49v8.23h-11.49zM496.42 144.25h11.49v8.23h-11.49zM507.91 144.25h11.49v8.23h-11.49zM519.40 144.25h11.50v8.23h-11.50zM358.50 152.48h11.49v8.22h-11.49zM369.99 152.48h11.49v8.22h-11.49zM381.49 152.48h11.49v8.22h-11.49zM392.98 152.48h11.49v8.22h-11.49zM404.47 152.48h11.49v8.22h-11.49zM415.97 152.48h11.49v8.22h-11.49zM427.46 152.48h11.49v8.22h-11.49zM438.95 152.48h11.49v8.22h-11.49zM450.44 152.48h11.49v8.22h-11.49zM461.94 152.48h11.49v8.22h-11.49zM473.43 152.48h11.49v8.22h-11.49zM484.92 152.48h11.49v8.22h-11.49zM496.42 152.48h11.49v8.22h-11.49zM507.91 152.48h11.49v8.22h-11.49zM519.40 152.48h11.50v8.22h-11.50z" stroke="#2c4466" stroke-width="0.6" fill="none" opacity="0.85"/>
<rect x="358.50" y="37.30" width="172.40" height="123.40" fill="none" stroke="#111" stroke-width="0.9"/>
<g font-family="'Liberation Sans', sans-serif" font-size="6.0" fill="#1a1a1a" stroke="#1a1a1a" stroke-width="0.12" text-anchor="end"><text x="357.6" y="35.2">100</text><text x="369.1" y="35.2">100</text><text x="380.6" y="35.2">100</text><text x="392.1" y="35.2">100</text><text x="403.6" y="35.2">100</text><text x="415.1" y="35.2">100</text><text x="426.6" y="35.2">100</text><text x="438.1" y="35.2">100</text><text x="449.5" y="35.2">100</text><text x="461.0" y="35.2">18</text><text x="472.5" y="35.2">18</text><text x="484.0" y="35.2">18</text><text x="495.5" y="35.2">18</text><text x="507.0" y="35.2">18</text><text x="518.5" y="35.2">18</text><text x="530.0" y="35.2">18</text><text x="541.7" y="35.2">18</text><text x="357.6" y="44.2">24</text><text x="369.1" y="44.2">1</text><text x="380.6" y="44.2">1</text><text x="392.1" y="44.2">1</text><text x="403.6" y="44.2">1</text><text x="415.1" y="44.2">1</text><text x="426.6" y="44.2">1</text><text x="438.1" y="44.2">1</text><text x="449.5" y="44.2">1</text><text x="461.0" y="44.2">100</text><text x="472.5" y="44.2">18</text><text x="484.0" y="44.2">18</text><text x="495.5" y="44.2">18</text><text x="507.0" y="44.2">18</text><text x="518.5" y="44.2">18</text><text x="530.0" y="44.2">18</text><text x="541.7" y="44.2">18</text><text x="357.6" y="52.5">24</text><text x="369.1" y="52.5">1</text><text x="380.6" y="52.5">1</text><text x="392.1" y="52.5">1</text><text x="403.6" y="52.5">1</text><text x="415.1" y="52.5">1</text><text x="426.6" y="52.5">1</text><text x="438.1" y="52.5">1</text><text x="449.5" y="52.5">1</text><text x="461.0" y="52.5">1</text><text x="472.5" y="52.5">100</text><text x="484.0" y="52.5">18</text><text x="495.5" y="52.5">18</text><text x="507.0" y="52.5">18</text><text x="518.5" y="52.5">18</text><text x="530.0" y="52.5">18</text><text x="541.7" y="52.5">18</text><text x="357.6" y="60.7">24</text><text x="369.1" y="60.7">1</text><text x="380.6" y="60.7">1</text><text x="392.1" y="60.7">1</text><text x="403.6" y="60.7">1</text><text x="415.1" y="60.7">1</text><text x="426.6" y="60.7">1</text><text x="438.1" y="60.7">1</text><text x="449.5" y="60.7">1</text><text x="461.0" y="60.7">1</text><text x="472.5" y="60.7">1</text><text x="484.0" y="60.7">100</text><text x="495.5" y="60.7">18</text><text x="507.0" y="60.7">18</text><text x="518.5" y="60.7">18</text><text x="530.0" y="60.7">18</text><text x="541.7" y="60.7">18</text><text x="357.6" y="68.9">24</text><text x="369.1" y="68.9">1</text><text x="380.6" y="68.9">1</text><text x="392.1" y="68.9">1</text><text x="403.6" y="68.9">1</text><text x="415.1" y="68.9">1</text><text x="426.6" y="68.9">1</text><text x="438.1" y="68.9">1</text><text x="449.5" y="68.9">1</text><text x="461.0" y="68.9">1</text><text x="472.5" y="68.9">1</text><text x="484.0" y="68.9">1</text><text x="495.5" y="68.9">100</text><text x="507.0" y="68.9">18</text><text x="518.5" y="68.9">18</text><text x="530.0" y="68.9">18</text><text x="541.7" y="68.9">18</text><text x="357.6" y="77.1">24</text><text x="369.1" y="77.1">1</text><text x="380.6" y="77.1">1</text><text x="392.1" y="77.1">1</text><text x="403.6" y="77.1">1</text><text x="415.1" y="77.1">1</text><text x="426.6" y="77.1">1</text><text x="438.1" y="77.1">1</text><text x="449.5" y="77.1">1</text><text x="461.0" y="77.1">1</text><text x="472.5" y="77.1">1</text><text x="484.0" y="77.1">1</text><text x="495.5" y="77.1">1</text><text x="507.0" y="77.1">100</text><text x="518.5" y="77.1">18</text><text x="530.0" y="77.1">18</text><text x="541.7" y="77.1">18</text><text x="357.6" y="85.4">24</text><text x="369.1" y="85.4">1</text><text x="380.6" y="85.4">1</text><text x="392.1" y="85.4">1</text><text x="403.6" y="85.4">1</text><text x="415.1" y="85.4">1</text><text x="426.6" y="85.4">1</text><text x="438.1" y="85.4">1</text><text x="449.5" y="85.4">1</text><text x="461.0" y="85.4">1</text><text x="472.5" y="85.4">1</text><text x="484.0" y="85.4">1</text><text x="495.5" y="85.4">1</text><text x="507.0" y="85.4">1</text><text x="518.5" y="85.4">100</text><text x="530.0" y="85.4">18</text><text x="541.7" y="85.4">18</text><text x="357.6" y="93.6">24</text><text x="369.1" y="93.6">1</text><text x="380.6" y="93.6">1</text><text x="392.1" y="93.6">1</text><text x="403.6" y="93.6">1</text><text x="415.1" y="93.6">1</text><text x="426.6" y="93.6">1</text><text x="438.1" y="93.6">1</text><text x="449.5" y="93.6">1</text><text x="461.0" y="93.6">1</text><text x="472.5" y="93.6">1</text><text x="484.0" y="93.6">1</text><text x="495.5" y="93.6">1</text><text x="507.0" y="93.6">1</text><text x="518.5" y="93.6">1</text><text x="530.0" y="93.6">100</text><text x="541.7" y="93.6">18</text><text x="357.6" y="101.8">24</text><text x="369.1" y="101.8">1</text><text x="380.6" y="101.8">1</text><text x="392.1" y="101.8">1</text><text x="403.6" y="101.8">1</text><text x="415.1" y="101.8">1</text><text x="426.6" y="101.8">1</text><text x="438.1" y="101.8">1</text><text x="449.5" y="101.8">1</text><text x="461.0" y="101.8">1</text><text x="472.5" y="101.8">1</text><text x="484.0" y="101.8">1</text><text x="495.5" y="101.8">1</text><text x="507.0" y="101.8">1</text><text x="518.5" y="101.8">1</text><text x="530.0" y="101.8">1</text><text x="541.7" y="101.8">100</text><text x="357.6" y="110.0">24</text><text x="369.1" y="110.0">1</text><text x="380.6" y="110.0">1</text><text x="392.1" y="110.0">1</text><text x="403.6" y="110.0">1</text><text x="415.1" y="110.0">1</text><text x="426.6" y="110.0">1</text><text x="438.1" y="110.0">1</text><text x="449.5" y="110.0">1</text><text x="461.0" y="110.0">1</text><text x="472.5" y="110.0">1</text><text x="484.0" y="110.0">1</text><text x="495.5" y="110.0">1</text><text x="507.0" y="110.0">1</text><text x="518.5" y="110.0">1</text><text x="530.0" y="110.0">1</text><text x="541.7" y="110.0">24</text><text x="357.6" y="118.3">24</text><text x="369.1" y="118.3">1</text><text x="380.6" y="118.3">1</text><text x="392.1" y="118.3">1</text><text x="403.6" y="118.3">1</text><text x="415.1" y="118.3">1</text><text x="426.6" y="118.3">1</text><text x="438.1" y="118.3">1</text><text x="449.5" y="118.3">1</text><text x="461.0" y="118.3">1</text><text x="472.5" y="118.3">1</text><text x="484.0" y="118.3">1</text><text x="495.5" y="118.3">1</text><text x="507.0" y="118.3">1</text><text x="518.5" y="118.3">1</text><text x="530.0" y="118.3">1</text><text x="541.7" y="118.3">24</text><text x="357.6" y="126.5">24</text><text x="369.1" y="126.5">1</text><text x="380.6" y="126.5">1</text><text x="392.1" y="126.5">1</text><text x="403.6" y="126.5">1</text><text x="415.1" y="126.5">1</text><text x="426.6" y="126.5">1</text><text x="438.1" y="126.5">1</text><text x="449.5" y="126.5">1</text><text x="461.0" y="126.5">1</text><text x="472.5" y="126.5">1</text><text x="484.0" y="126.5">1</text><text x="495.5" y="126.5">1</text><text x="507.0" y="126.5">1</text><text x="518.5" y="126.5">1</text><text x="530.0" y="126.5">1</text><text x="541.7" y="126.5">24</text><text x="357.6" y="134.7">24</text><text x="369.1" y="134.7">1</text><text x="380.6" y="134.7">1</text><text x="392.1" y="134.7">1</text><text x="403.6" y="134.7">1</text><text x="415.1" y="134.7">1</text><text x="426.6" y="134.7">1</text><text x="438.1" y="134.7">1</text><text x="449.5" y="134.7">1</text><text x="461.0" y="134.7">1</text><text x="472.5" y="134.7">1</text><text x="484.0" y="134.7">1</text><text x="495.5" y="134.7">1</text><text x="507.0" y="134.7">1</text><text x="518.5" y="134.7">1</text><text x="530.0" y="134.7">1</text><text x="541.7" y="134.7">24</text><text x="357.6" y="143.0">24</text><text x="369.1" y="143.0">1</text><text x="380.6" y="143.0">1</text><text x="392.1" y="143.0">1</text><text x="403.6" y="143.0">1</text><text x="415.1" y="143.0">1</text><text x="426.6" y="143.0">1</text><text x="438.1" y="143.0">1</text><text x="449.5" y="143.0">1</text><text x="461.0" y="143.0">1</text><text x="472.5" y="143.0">1</text><text x="484.0" y="143.0">1</text><text x="495.5" y="143.0">1</text><text x="507.0" y="143.0">1</text><text x="518.5" y="143.0">1</text><text x="530.0" y="143.0">1</text><text x="541.7" y="143.0">24</text><text x="357.6" y="151.2">24</text><text x="369.1" y="151.2">1</text><text x="380.6" y="151.2">1</text><text x="392.1" y="151.2">1</text><text x="403.6" y="151.2">1</text><text x="415.1" y="151.2">1</text><text x="426.6" y="151.2">1</text><text x="438.1" y="151.2">1</text><text x="449.5" y="151.2">1</text><text x="461.0" y="151.2">1</text><text x="472.5" y="151.2">1</text><text x="484.0" y="151.2">1</text><text x="495.5" y="151.2">1</text><text x="507.0" y="151.2">1</text><text x="518.5" y="151.2">1</text><text x="530.0" y="151.2">1</text><text x="541.7" y="151.2">24</text><text x="357.6" y="159.4">24</text><text x="369.1" y="159.4">1</text><text x="380.6" y="159.4">1</text><text x="392.1" y="159.4">1</text><text x="403.6" y="159.4">1</text><text x="415.1" y="159.4">1</text><text x="426.6" y="159.4">1</text><text x="438.1" y="159.4">1</text><text x="449.5" y="159.4">1</text><text x="461.0" y="159.4">1</text><text x="472.5" y="159.4">1</text><text x="484.0" y="159.4">1</text><text x="495.5" y="159.4">1</text><text x="507.0" y="159.4">1</text><text x="518.5" y="159.4">1</text><text x="530.0" y="159.4">1</text><text x="541.7" y="159.4">24</text><text x="357.6" y="167.4">24</text><text x="369.1" y="167.4">24</text><text x="380.6" y="167.4">24</text><text x="392.1" y="167.4">24</text><text x="403.6" y="167.4">24</text><text x="415.1" y="167.4">24</text><text x="426.6" y="167.4">24</text><text x="438.1" y="167.4">24</text><text x="449.5" y="167.4">24</text><text x="461.0" y="167.4">24</text><text x="472.5" y="167.4">24</text><text x="484.0" y="167.4">24</text><text x="495.5" y="167.4">24</text><text x="507.0" y="167.4">24</text><text x="518.5" y="167.4">24</text><text x="530.0" y="167.4">24</text><text x="541.7" y="167.4">24</text></g>
<clipPath id="cpL"><polygon points="57.1,216.9 133.9,216.9 211.7,294.9 211.7,372.8 57.1,372.8"/></clipPath>
<g clip-path="url(#cpL)">
<rect x="57" y="216" width="156" height="158" fill="#0000de"/>
<path d="M151.3 353.8L152.8 354.0L154.3 354.2L155.9 354.4L157.4 354.5L159.0 354.7L160.5 354.8L162.0 354.8L163.6 354.9L165.1 354.9L166.6 354.9L168.2 354.8L169.7 354.8L171.2 354.7L172.8 354.5L174.3 354.3L175.8 354.1L177.4 353.9L178.4 353.7L178.9 353.6L180.4 353.2L182.0 352.8L183.5 352.3L184.0 352.1L185.0 351.7L186.6 351.1L187.8 350.6L188.1 350.4L189.6 349.6L190.6 349.0L191.2 348.7L192.7 347.6L192.9 347.5L194.2 346.4L194.9 345.9L195.8 345.1L196.5 344.4L197.3 343.5L197.9 342.8L198.8 341.8L199.2 341.3L200.4 339.7L200.4 339.7L201.4 338.2L201.9 337.4L202.4 336.6L203.2 335.1L203.5 334.7L204.0 333.5L204.8 332.0L205.0 331.5L205.5 330.4L206.1 328.9L206.5 327.9L206.7 327.3L207.3 325.8L207.8 324.3L208.1 323.6L208.3 322.7L208.8 321.2L209.3 319.6L209.6 318.7L209.7 318.1L210.2 316.5L210.6 315.0L211.0 313.4L211.1 312.9L211.4 311.9L211.7 310.3L212.1 308.8L212.4 307.2L212.7 306.1L212.7 305.7L213.1 304.1L213.4 302.6L213.6 301.0L213.9 299.5L214.2 299.4L214.2 297.9L214.2 296.4L214.2 294.9L214.2 293.3L214.2 291.8L214.2 290.2L214.2 288.7L214.2 287.1L214.2 285.6L214.2 284.0L214.2 282.5L214.2 280.9L214.2 279.4L214.2 277.8L214.2 276.3L214.2 274.7L214.2 273.2L214.2 271.6L214.2 270.1L214.2 268.5L214.2 267.0L214.2 265.4L214.2 263.9L214.2 262.4L214.2 260.8L214.2 259.3L214.2 257.7L214.2 256.2L214.2 254.6L214.2 253.1L214.2 251.5L214.2 250.0L214.2 248.4L214.2 246.9L214.2 245.3L214.2 243.8L214.2 242.2L214.2 240.7L214.2 239.1L214.2 237.6L214.2 236.0L214.2 234.5L214.2 233.0L214.2 231.4L214.2 229.9L214.2 228.3L214.2 226.8L214.2 225.2L214.2 223.7L214.2 222.1L214.2 220.6L214.2 219.0L214.2 217.5L214.2 215.9L214.2 214.4L212.7 214.4L211.1 214.4L209.6 214.4L208.1 214.4L206.5 214.4L205.0 214.4L203.5 214.4L201.9 214.4L200.4 214.4L198.8 214.4L197.3 214.4L195.8 214.4L194.2 214.4L192.7 214.4L191.2 214.4L189.6 214.4L188.1 214.4L186.6 214.4L185.0 214.4L183.5 214.4L182.0 214.4L180.4 214.4L178.9 214.4L177.4 214.4L175.8 214.4L174.3 214.4L172.8 214.4L171.2 214.4L169.7 214.4L168.2 214.4L166.6 214.4L165.1 214.4L163.6 214.4L162.0 214.4L160.5 214.4L159.0 214.4L157.4 214.4L155.9 214.4L154.3 214.4L152.8 214.4L151.3 214.4L149.7 214.4L148.2 214.4L146.7 214.4L145.1 214.4L143.6 214.4L142.1 214.4L140.5 214.4L139.0 214.4L137.5 214.4L135.9 214.4L134.4 214.4L132.9 214.4L131.3 214.4L129.8 214.4L128.3 214.4L126.7 214.4L125.2 214.4L123.7 214.4L122.1 214.4L120.6 214.4L119.1 214.4L117.5 214.4L116.0 214.4L114.5 214.4L112.9 214.4L111.4 214.4L109.8 214.4L108.3 214.4L106.8 214.4L105.2 214.4L103.7 214.4L102.2 214.4L100.6 214.4L99.1 214.4L97.6 214.4L96.0 214.4L94.5 214.4L93.0 214.4L91.4 214.4L89.9 214.4L88.4 214.4L86.8 214.4L85.3 214.4L83.8 214.4L82.2 214.4L80.7 214.4L79.2 214.4L77.6 214.4L76.1 214.4L74.6 214.4L73.0 214.4L71.5 214.4L70.0 214.4L68.4 214.4L66.9 214.4L65.3 214.4L63.8 214.4L62.3 214.4L60.7 214.4L59.2 214.4L57.7 214.4L56.1 214.4L54.7 214.4L54.8 215.9L55.0 217.5L55.2 219.0L55.4 220.6L55.6 222.1L55.7 223.7L55.9 225.2L56.1 226.8L56.1 226.9L56.3 228.3L56.5 229.9L56.7 231.4L56.9 233.0L57.1 234.5L57.3 236.0L57.5 237.6L57.7 239.1L57.7 239.1L57.9 240.7L58.1 242.2L58.3 243.8L58.5 245.3L58.7 246.9L58.9 248.4L59.1 250.0L59.2 250.7L59.3 251.5L59.5 253.1L59.8 254.6L60.0 256.2L60.2 257.7L60.5 259.3L60.7 260.8L60.7 261.1L61.0 262.4L61.2 263.9L61.5 265.4L61.7 267.0L62.0 268.5L62.3 269.9L62.3 270.1L62.6 271.6L62.9 273.2L63.3 274.7L63.6 276.3L63.8 277.3L63.9 277.8L64.3 279.4L64.7 280.9L65.1 282.5L65.3 283.4L65.5 284.0L65.9 285.6L66.4 287.1L66.9 288.6L66.9 288.7L67.4 290.2L67.9 291.8L68.4 293.1L68.5 293.3L69.1 294.9L69.7 296.4L70.0 296.9L70.4 297.9L71.1 299.5L71.5 300.3L71.8 301.0L72.6 302.6L73.0 303.3L73.5 304.1L74.3 305.7L74.6 306.0L75.3 307.2L76.1 308.5L76.3 308.8L77.3 310.3L77.6 310.8L78.4 311.9L79.2 312.9L79.6 313.4L80.7 314.9L80.8 315.0L82.1 316.5L82.2 316.7L83.4 318.1L83.8 318.4L84.8 319.6L85.3 320.1L86.4 321.2L86.8 321.6L87.9 322.7L88.4 323.1L89.6 324.3L89.9 324.5L91.3 325.8L91.4 325.9L93.0 327.2L93.1 327.3L94.5 328.5L95.0 328.9L96.0 329.7L97.0 330.4L97.6 330.9L99.1 332.0L99.1 332.0L100.6 333.1L101.3 333.5L102.2 334.1L103.6 335.1L103.7 335.2L105.2 336.2L106.0 336.6L106.8 337.1L108.3 338.1L108.5 338.2L109.8 339.0L111.2 339.7L111.4 339.8L112.9 340.7L114.0 341.3L114.5 341.5L116.0 342.3L117.0 342.8L117.5 343.1L119.1 343.8L120.2 344.4L120.6 344.5L122.1 345.2L123.7 345.9L123.7 345.9L125.2 346.5L126.7 347.2L127.5 347.5L128.3 347.8L129.8 348.3L131.3 348.9L131.8 349.0L132.9 349.4L134.4 349.9L135.9 350.4L136.6 350.6L137.5 350.8L139.0 351.2L140.5 351.6L142.1 352.0L142.5 352.1L143.6 352.4L145.1 352.7L146.7 353.0L148.2 353.3L149.7 353.6L150.3 353.7Z" fill="#0080ff"/>
<path d="M159.0 323.0L160.5 323.2L162.0 323.4L163.6 323.6L165.1 323.7L166.6 323.8L168.2 323.9L169.7 323.9L171.2 323.8L172.8 323.8L174.3 323.7L175.8 323.5L177.4 323.3L178.9 323.0L180.4 322.7L180.5 322.7L182.0 322.4L183.5 322.0L185.0 321.5L185.9 321.2L186.6 320.9L188.1 320.3L189.6 319.7L189.8 319.6L191.2 319.0L192.7 318.1L192.8 318.1L194.2 317.3L195.5 316.5L195.8 316.3L197.3 315.3L197.8 315.0L198.8 314.2L199.8 313.4L200.4 313.0L201.7 311.9L201.9 311.7L203.5 310.3L203.5 310.3L205.0 308.9L205.1 308.8L206.5 307.4L206.6 307.2L208.1 305.7L208.1 305.7L209.4 304.1L209.6 304.0L210.7 302.6L211.1 302.2L211.9 301.0L212.7 300.4L213.0 299.5L214.2 299.1L214.2 297.9L214.2 296.4L214.2 294.9L214.2 293.3L214.2 291.8L214.2 290.2L214.2 288.7L214.2 287.1L214.2 285.6L214.2 284.0L214.2 282.5L214.2 280.9L214.2 279.4L214.2 277.8L214.2 276.3L214.2 274.7L214.2 273.2L214.2 271.6L214.2 270.1L214.2 268.5L214.2 267.0L214.2 265.4L214.2 263.9L214.2 262.4L214.2 260.8L214.2 259.3L214.2 257.7L214.2 256.2L214.2 254.6L214.2 253.1L214.2 251.5L214.2 250.0L214.2 248.4L214.2 246.9L214.2 245.3L214.2 243.8L214.2 242.2L214.2 240.7L214.2 239.1L214.2 237.6L214.2 236.0L214.2 234.5L214.2 233.0L214.2 231.4L214.2 229.9L214.2 228.3L214.2 226.8L214.2 225.2L214.2 223.7L214.2 222.1L214.2 220.6L214.2 219.0L214.2 217.5L214.2 215.9L214.2 214.4L212.7 214.4L211.1 214.4L209.6 214.4L208.1 214.4L206.5 214.4L205.0 214.4L203.5 214.4L201.9 214.4L200.4 214.4L198.8 214.4L197.3 214.4L195.8 214.4L194.2 214.4L192.7 214.4L191.2 214.4L189.6 214.4L188.1 214.4L186.6 214.4L185.0 214.4L183.5 214.4L182.0 214.4L180.4 214.4L178.9 214.4L177.4 214.4L175.8 214.4L174.3 214.4L172.8 214.4L171.2 214.4L169.7 214.4L168.2 214.4L166.6 214.4L165.1 214.4L163.6 214.4L162.0 214.4L160.5 214.4L159.0 214.4L157.4 214.4L155.9 214.4L154.3 214.4L152.8 214.4L151.3 214.4L149.7 214.4L148.2 214.4L146.7 214.4L145.1 214.4L143.6 214.4L142.1 214.4L140.5 214.4L139.0 214.4L137.5 214.4L135.9 214.4L134.4 214.4L132.9 214.4L131.3 214.4L129.8 214.4L128.3 214.4L126.7 214.4L125.2 214.4L123.7 214.4L122.1 214.4L120.6 214.4L119.1 214.4L117.5 214.4L116.0 214.4L114.5 214.4L112.9 214.4L111.4 214.4L109.8 214.4L108.3 214.4L106.8 214.4L105.2 214.4L103.7 214.4L102.2 214.4L100.6 214.4L99.1 214.4L97.6 214.4L96.0 214.4L94.5 214.4L93.0 214.4L91.4 214.4L89.9 214.4L88.4 214.4L86.8 214.4L85.3 214.4L83.8 214.4L82.2 214.4L80.7 214.4L79.2 214.4L77.6 214.4L76.1 214.4L74.6 214.4L73.0 214.4L71.5 214.4L70.0 214.4L68.4 214.4L66.9 214.4L65.3 214.4L63.8 214.4L62.3 214.4L60.7 214.4L59.2 214.4L57.7 214.4L56.1 214.4L55.0 214.4L55.5 215.9L56.0 217.5L56.1 217.9L56.8 219.0L57.4 220.6L57.7 221.2L58.2 222.1L58.9 223.7L59.2 224.5L59.6 225.2L60.3 226.8L60.7 227.8L61.0 228.3L61.7 229.9L62.3 231.1L62.4 231.4L63.2 233.0L63.8 234.4L63.9 234.5L64.6 236.0L65.3 237.6L65.3 237.6L66.1 239.1L66.8 240.7L66.9 240.9L67.6 242.2L68.3 243.8L68.4 244.1L69.1 245.3L69.8 246.9L70.0 247.2L70.6 248.4L71.4 250.0L71.5 250.2L72.2 251.5L73.0 253.1L73.0 253.2L73.8 254.6L74.6 256.1L74.6 256.2L75.5 257.7L76.1 258.9L76.3 259.3L77.2 260.8L77.6 261.5L78.1 262.4L79.0 263.9L79.2 264.1L80.0 265.4L80.7 266.6L80.9 267.0L81.9 268.5L82.2 269.0L82.9 270.1L83.8 271.3L84.0 271.6L85.1 273.2L85.3 273.5L86.2 274.7L86.8 275.6L87.3 276.3L88.4 277.7L88.5 277.8L89.7 279.4L89.9 279.6L91.0 280.9L91.4 281.5L92.3 282.5L93.0 283.3L93.6 284.0L94.5 285.0L95.0 285.6L96.0 286.7L96.4 287.1L97.6 288.3L97.9 288.7L99.1 289.9L99.5 290.2L100.6 291.4L101.1 291.8L102.2 292.8L102.7 293.3L103.7 294.2L104.4 294.9L105.2 295.6L106.2 296.4L106.8 296.9L108.0 297.9L108.3 298.2L109.8 299.4L109.9 299.5L111.4 300.6L111.9 301.0L112.9 301.8L114.0 302.6L114.5 302.9L116.0 304.0L116.2 304.1L117.5 305.1L118.4 305.7L119.1 306.1L120.6 307.1L120.8 307.2L122.1 308.1L123.2 308.8L123.7 309.0L125.2 310.0L125.8 310.3L126.7 310.9L128.3 311.7L128.6 311.9L129.8 312.5L131.3 313.3L131.5 313.4L132.9 314.1L134.4 314.9L134.6 315.0L135.9 315.6L137.5 316.3L138.0 316.5L139.0 317.0L140.5 317.6L141.7 318.1L142.1 318.2L143.6 318.8L145.1 319.3L145.9 319.6L146.7 319.9L148.2 320.4L149.7 320.8L150.9 321.2L151.3 321.3L152.8 321.7L154.3 322.0L155.9 322.4L157.4 322.7L157.5 322.7Z" fill="#36ffc0"/>
<path d="M182.0 305.7L183.5 305.8L185.0 305.8L186.6 305.7L187.2 305.7L188.1 305.6L189.6 305.5L191.2 305.4L192.7 305.2L194.2 304.9L195.8 304.7L197.3 304.3L198.1 304.1L198.8 304.0L200.4 303.6L201.9 303.1L203.5 302.6L203.6 302.6L205.0 302.1L206.5 301.6L207.8 301.0L208.1 301.0L209.6 300.4L211.1 299.7L211.3 299.5L212.7 299.1L214.2 298.8L214.2 297.9L214.2 296.4L214.2 294.9L214.2 293.3L214.2 291.8L214.2 290.2L214.2 288.7L214.2 287.1L214.2 285.6L214.2 284.0L214.2 282.5L214.2 280.9L214.2 279.4L214.2 277.8L214.2 276.3L214.2 274.7L214.2 273.2L214.2 271.6L214.2 270.1L214.2 268.5L214.2 267.0L214.2 265.4L214.2 263.9L214.2 262.4L214.2 260.8L214.2 259.3L214.2 257.7L214.2 256.2L214.2 254.6L214.2 253.1L214.2 251.5L214.2 250.0L214.2 248.4L214.2 246.9L214.2 245.3L214.2 243.8L214.2 242.2L214.2 240.7L214.2 239.1L214.2 237.6L214.2 236.0L214.2 234.5L214.2 233.0L214.2 231.4L214.2 229.9L214.2 228.3L214.2 226.8L214.2 225.2L214.2 223.7L214.2 222.1L214.2 220.6L214.2 219.0L214.2 217.5L214.2 215.9L214.2 214.4L212.7 214.4L211.1 214.4L209.6 214.4L208.1 214.4L206.5 214.4L205.0 214.4L203.5 214.4L201.9 214.4L200.4 214.4L198.8 214.4L197.3 214.4L195.8 214.4L194.2 214.4L192.7 214.4L191.2 214.4L189.6 214.4L188.1 214.4L186.6 214.4L185.0 214.4L183.5 214.4L182.0 214.4L180.4 214.4L178.9 214.4L177.4 214.4L175.8 214.4L174.3 214.4L172.8 214.4L171.2 214.4L169.7 214.4L168.2 214.4L166.6 214.4L165.1 214.4L163.6 214.4L162.0 214.4L160.5 214.4L159.0 214.4L157.4 214.4L155.9 214.4L154.3 214.4L152.8 214.4L151.3 214.4L149.7 214.4L148.2 214.4L146.7 214.4L145.1 214.4L143.6 214.4L142.1 214.4L140.5 214.4L139.0 214.4L137.5 214.4L135.9 214.4L134.4 214.4L132.9 214.4L131.3 214.4L129.8 214.4L128.3 214.4L126.7 214.4L125.2 214.4L123.7 214.4L122.1 214.4L120.6 214.4L119.1 214.4L117.5 214.4L116.0 214.4L114.5 214.4L112.9 214.4L111.4 214.4L109.8 214.4L108.3 214.4L106.8 214.4L105.2 214.4L103.7 214.4L102.2 214.4L100.6 214.4L99.1 214.4L97.6 214.4L96.0 214.4L94.5 214.4L93.0 214.4L91.4 214.4L89.9 214.4L88.4 214.4L86.8 214.4L85.3 214.4L83.8 214.4L82.2 214.4L80.7 214.4L79.2 214.4L77.6 214.4L76.1 214.4L74.6 214.4L73.0 214.4L71.5 214.4L70.0 214.4L68.4 214.4L66.9 214.4L65.3 214.4L63.8 214.4L62.3 214.4L60.7 214.4L59.2 214.4L57.7 214.4L56.1 214.4L55.3 214.4L56.1 215.9L56.1 216.1L57.5 217.5L57.7 217.8L58.9 219.0L59.2 219.5L60.3 220.6L60.7 221.2L61.7 222.1L62.3 222.8L63.1 223.7L63.8 224.5L64.5 225.2L65.3 226.2L65.9 226.8L66.9 227.8L67.4 228.3L68.4 229.5L68.8 229.9L70.0 231.2L70.2 231.4L71.5 232.8L71.6 233.0L73.0 234.5L73.1 234.5L74.5 236.0L74.6 236.1L75.9 237.6L76.1 237.8L77.4 239.1L77.6 239.4L78.9 240.7L79.2 241.0L80.3 242.2L80.7 242.6L81.8 243.8L82.2 244.2L83.3 245.3L83.8 245.8L84.8 246.9L85.3 247.4L86.3 248.4L86.8 248.9L87.9 250.0L88.4 250.5L89.4 251.5L89.9 252.0L91.0 253.1L91.4 253.5L92.6 254.6L93.0 255.0L94.1 256.2L94.5 256.5L95.8 257.7L96.0 258.0L97.4 259.3L97.6 259.4L99.0 260.8L99.1 260.9L100.6 262.3L100.7 262.4L102.2 263.7L102.4 263.9L103.7 265.1L104.1 265.4L105.2 266.4L105.9 267.0L106.8 267.8L107.7 268.5L108.3 269.1L109.5 270.1L109.8 270.4L111.3 271.6L111.4 271.7L112.9 273.0L113.2 273.2L114.5 274.2L115.1 274.7L116.0 275.4L117.1 276.3L117.5 276.6L119.0 277.8L119.1 277.8L120.6 279.0L121.1 279.4L122.1 280.2L123.2 280.9L123.7 281.3L125.2 282.4L125.3 282.5L126.7 283.5L127.5 284.0L128.3 284.5L129.8 285.6L129.8 285.6L131.3 286.6L132.1 287.1L132.9 287.6L134.4 288.6L134.5 288.7L135.9 289.5L137.0 290.2L137.5 290.5L139.0 291.4L139.6 291.8L140.5 292.3L142.1 293.1L142.4 293.3L143.6 294.0L145.1 294.8L145.2 294.9L146.7 295.6L148.2 296.3L148.3 296.4L149.7 297.1L151.3 297.8L151.6 297.9L152.8 298.5L154.3 299.1L155.2 299.5L155.9 299.8L157.4 300.4L159.0 300.9L159.2 301.0L160.5 301.5L162.0 302.0L163.6 302.5L163.9 302.6L165.1 302.9L166.6 303.4L168.2 303.7L169.7 304.1L169.9 304.1L171.2 304.4L172.8 304.7L174.3 305.0L175.8 305.2L177.4 305.4L178.9 305.5L180.4 305.6L181.3 305.7Z" fill="#c0ff36"/>
<path d="M208.1 298.0L209.6 298.1L211.1 298.2L212.7 298.3L214.2 298.5L214.2 297.9L214.2 296.4L214.2 294.9L214.2 293.3L214.2 291.8L214.2 290.2L214.2 288.7L214.2 287.1L214.2 285.6L214.2 284.0L214.2 282.5L214.2 280.9L214.2 279.4L214.2 277.8L214.2 276.3L214.2 274.7L214.2 273.2L214.2 271.6L214.2 270.1L214.2 268.5L214.2 267.0L214.2 265.4L214.2 263.9L214.2 262.4L214.2 260.8L214.2 259.3L214.2 257.7L214.2 256.2L214.2 254.6L214.2 253.1L214.2 251.5L214.2 250.0L214.2 248.4L214.2 246.9L214.2 245.3L214.2 243.8L214.2 242.2L214.2 240.7L214.2 239.1L214.2 237.6L214.2 236.0L214.2 234.5L214.2 233.0L214.2 231.4L214.2 229.9L214.2 228.3L214.2 226.8L214.2 225.2L214.2 223.7L214.2 222.1L214.2 220.6L214.2 219.0L214.2 217.5L214.2 215.9L214.2 214.4L212.7 214.4L211.1 214.4L209.6 214.4L208.1 214.4L206.5 214.4L205.0 214.4L203.5 214.4L201.9 214.4L200.4 214.4L198.8 214.4L197.3 214.4L195.8 214.4L194.2 214.4L192.7 214.4L191.2 214.4L189.6 214.4L188.1 214.4L186.6 214.4L185.0 214.4L183.5 214.4L182.0 214.4L180.4 214.4L178.9 214.4L177.4 214.4L175.8 214.4L174.3 214.4L172.8 214.4L171.2 214.4L169.7 214.4L168.2 214.4L166.6 214.4L165.1 214.4L163.6 214.4L162.0 214.4L160.5 214.4L159.0 214.4L157.4 214.4L155.9 214.4L154.3 214.4L152.8 214.4L151.3 214.4L149.7 214.4L148.2 214.4L146.7 214.4L145.1 214.4L143.6 214.4L142.1 214.4L140.5 214.4L139.0 214.4L137.5 214.4L135.9 214.4L134.4 214.4L132.9 214.4L131.3 214.4L129.8 214.4L128.3 214.4L126.7 214.4L125.2 214.4L123.7 214.4L122.1 214.4L120.6 214.4L119.1 214.4L117.5 214.4L116.0 214.4L114.5 214.4L112.9 214.4L111.4 214.4L109.8 214.4L108.3 214.4L106.8 214.4L105.2 214.4L103.7 214.4L102.2 214.4L100.6 214.4L99.1 214.4L97.6 214.4L96.0 214.4L94.5 214.4L93.0 214.4L91.4 214.4L89.9 214.4L88.4 214.4L86.8 214.4L85.3 214.4L83.8 214.4L82.2 214.4L80.7 214.4L79.2 214.4L77.6 214.4L76.1 214.4L74.6 214.4L73.0 214.4L71.5 214.4L70.0 214.4L68.4 214.4L66.9 214.4L65.3 214.4L63.8 214.4L62.3 214.4L60.7 214.4L59.2 214.4L57.7 214.4L56.1 214.4L55.6 214.4L56.1 215.4L57.5 215.9L57.7 216.1L59.2 217.0L60.1 217.5L60.7 217.9L62.3 218.8L62.8 219.0L63.8 219.7L65.3 220.5L65.4 220.6L66.9 221.4L68.2 222.1L68.4 222.3L70.0 223.2L70.9 223.7L71.5 224.1L73.0 224.9L73.6 225.2L74.6 225.8L76.1 226.7L76.3 226.8L77.6 227.6L79.0 228.3L79.2 228.4L80.7 229.3L81.7 229.9L82.2 230.2L83.8 231.1L84.4 231.4L85.3 231.9L86.8 232.8L87.1 233.0L88.4 233.7L89.8 234.5L89.9 234.6L91.4 235.5L92.5 236.0L93.0 236.4L94.5 237.2L95.1 237.6L96.0 238.2L97.6 239.1L97.7 239.1L99.1 240.0L100.3 240.7L100.6 240.9L102.2 241.8L102.8 242.2L103.7 242.8L105.2 243.7L105.3 243.8L106.8 244.7L107.8 245.3L108.3 245.7L109.8 246.7L110.1 246.9L111.4 247.7L112.5 248.4L112.9 248.7L114.5 249.8L114.8 250.0L116.0 250.8L117.0 251.5L117.5 251.9L119.1 252.9L119.2 253.1L120.6 254.0L121.4 254.6L122.1 255.1L123.6 256.2L123.7 256.2L125.2 257.3L125.7 257.7L126.7 258.5L127.8 259.3L128.3 259.6L129.8 260.7L129.9 260.8L131.3 261.9L132.0 262.4L132.9 263.0L134.1 263.9L134.4 264.1L135.9 265.2L136.2 265.4L137.5 266.4L138.3 267.0L139.0 267.5L140.5 268.5L140.5 268.6L142.1 269.7L142.7 270.1L143.6 270.8L144.8 271.6L145.1 271.8L146.7 272.9L147.1 273.2L148.2 274.0L149.3 274.7L149.7 275.0L151.3 276.0L151.6 276.3L152.8 277.0L154.0 277.8L154.3 278.0L155.9 279.0L156.5 279.4L157.4 280.0L159.0 280.9L159.0 280.9L160.5 281.8L161.6 282.5L162.0 282.7L163.6 283.6L164.3 284.0L165.1 284.5L166.6 285.3L167.1 285.6L168.2 286.1L169.7 286.9L170.1 287.1L171.2 287.7L172.8 288.4L173.3 288.7L174.3 289.1L175.8 289.8L176.8 290.2L177.4 290.5L178.9 291.1L180.4 291.7L180.6 291.8L182.0 292.3L183.5 292.8L184.9 293.3L185.0 293.4L186.6 293.9L188.1 294.3L189.6 294.8L189.9 294.9L191.2 295.2L192.7 295.6L194.2 295.9L195.8 296.3L196.4 296.4L197.3 296.6L198.8 296.8L200.4 297.1L201.9 297.3L203.5 297.5L205.0 297.7L206.5 297.8L208.0 297.9Z" fill="#ff9400"/>
<path d="M214.2 298.1L214.2 297.9L214.2 296.4L214.2 294.9L214.2 293.3L214.2 291.8L214.2 290.2L214.2 288.7L214.2 287.1L214.2 285.6L214.2 284.0L214.2 282.5L214.2 280.9L214.2 279.4L214.2 277.8L214.2 276.3L214.2 274.7L214.2 273.2L214.2 271.6L214.2 270.1L214.2 268.5L214.2 267.0L214.2 265.4L214.2 263.9L214.2 262.4L214.2 260.8L214.2 259.3L214.2 257.7L214.2 256.2L214.2 254.6L214.2 253.1L214.2 251.5L214.2 250.0L214.2 248.4L214.2 246.9L214.2 245.3L214.2 243.8L214.2 242.2L214.2 240.7L214.2 239.1L214.2 237.6L214.2 236.0L214.2 234.5L214.2 233.0L214.2 231.4L214.2 229.9L214.2 228.3L214.2 226.8L214.2 225.2L214.2 223.7L214.2 222.1L214.2 220.6L214.2 219.0L214.2 217.5L214.2 215.9L214.2 214.4L212.7 214.4L211.1 214.4L209.6 214.4L208.1 214.4L206.5 214.4L205.0 214.4L203.5 214.4L201.9 214.4L200.4 214.4L198.8 214.4L197.3 214.4L195.8 214.4L194.2 214.4L192.7 214.4L191.2 214.4L189.6 214.4L188.1 214.4L186.6 214.4L185.0 214.4L183.5 214.4L182.0 214.4L180.4 214.4L178.9 214.4L177.4 214.4L175.8 214.4L174.3 214.4L172.8 214.4L171.2 214.4L169.7 214.4L168.2 214.4L166.6 214.4L165.1 214.4L163.6 214.4L162.0 214.4L160.5 214.4L159.0 214.4L157.4 214.4L155.9 214.4L154.3 214.4L152.8 214.4L151.3 214.4L149.7 214.4L148.2 214.4L146.7 214.4L145.1 214.4L143.6 214.4L142.1 214.4L140.5 214.4L139.0 214.4L137.5 214.4L135.9 214.4L134.4 214.4L132.9 214.4L131.3 214.4L129.8 214.4L128.3 214.4L126.7 214.4L125.2 214.4L123.7 214.4L122.1 214.4L120.6 214.4L119.1 214.4L117.5 214.4L116.0 214.4L114.5 214.4L112.9 214.4L111.4 214.4L109.8 214.4L108.3 214.4L106.8 214.4L105.2 214.4L103.7 214.4L102.2 214.4L100.6 214.4L99.1 214.4L97.6 214.4L96.0 214.4L94.5 214.4L93.0 214.4L91.4 214.4L89.9 214.4L88.4 214.4L86.8 214.4L85.3 214.4L83.8 214.4L82.2 214.4L80.7 214.4L79.2 214.4L77.6 214.4L76.1 214.4L74.6 214.4L73.0 214.4L71.5 214.4L70.0 214.4L68.4 214.4L66.9 214.4L65.3 214.4L63.8 214.4L62.3 214.4L60.7 214.4L59.2 214.4L57.7 214.4L56.1 214.4L55.9 214.4L56.1 214.8L57.7 215.1L59.2 215.4L60.7 215.7L62.1 215.9L62.3 216.0L63.8 216.3L65.3 216.7L66.9 217.0L68.4 217.3L69.3 217.5L70.0 217.6L71.5 218.0L73.0 218.3L74.6 218.6L76.1 218.9L76.6 219.0L77.6 219.2L79.2 219.6L80.7 219.9L82.2 220.2L83.8 220.5L83.9 220.6L85.3 220.9L86.8 221.2L88.4 221.5L89.9 221.9L91.1 222.1L91.4 222.2L93.0 222.5L94.5 222.9L96.0 223.2L97.6 223.6L98.0 223.7L99.1 223.9L100.6 224.3L102.2 224.7L103.7 225.0L104.4 225.2L105.2 225.4L106.8 225.8L108.3 226.2L109.8 226.7L110.1 226.8L111.4 227.1L112.9 227.6L114.5 228.1L115.0 228.3L116.0 228.7L117.5 229.2L119.1 229.8L119.1 229.9L120.6 230.5L122.1 231.2L122.5 231.4L123.7 232.0L125.2 232.8L125.5 233.0L126.7 233.6L128.2 234.5L128.3 234.6L129.8 235.5L130.6 236.0L131.3 236.6L132.8 237.6L132.9 237.6L134.4 238.7L134.9 239.1L135.9 239.9L137.0 240.7L137.5 241.1L138.9 242.2L139.0 242.3L140.5 243.5L140.9 243.8L142.1 244.8L142.7 245.3L143.6 246.0L144.6 246.9L145.1 247.3L146.4 248.4L146.7 248.6L148.2 249.9L148.3 250.0L149.7 251.2L150.1 251.5L151.3 252.5L151.9 253.1L152.8 253.9L153.7 254.6L154.3 255.2L155.5 256.2L155.9 256.5L157.3 257.7L157.4 257.8L159.0 259.1L159.1 259.3L160.5 260.4L161.0 260.8L162.0 261.7L162.8 262.4L163.6 263.0L164.6 263.9L165.1 264.3L166.5 265.4L166.6 265.6L168.2 266.8L168.4 267.0L169.7 268.1L170.3 268.5L171.2 269.3L172.2 270.1L172.8 270.5L174.1 271.6L174.3 271.8L175.8 273.0L176.1 273.2L177.4 274.2L178.1 274.7L178.9 275.4L180.1 276.3L180.4 276.5L182.0 277.7L182.2 277.8L183.5 278.8L184.2 279.4L185.0 279.9L186.4 280.9L186.6 281.1L188.1 282.1L188.6 282.5L189.6 283.2L190.8 284.0L191.2 284.3L192.7 285.3L193.1 285.6L194.2 286.3L195.4 287.1L195.8 287.4L197.3 288.3L197.8 288.7L198.8 289.3L200.3 290.2L200.4 290.3L201.9 291.2L202.8 291.8L203.5 292.1L205.0 293.0L205.4 293.3L206.5 293.9L208.1 294.8L208.1 294.9L209.6 295.6L210.9 296.4L211.1 296.5L212.7 297.3L213.3 297.9Z" fill="#de0000"/>
</g>
<rect x="57.1" y="216.9" width="154.6" height="155.9" fill="none" stroke="#8a8a8a" stroke-width="0.75"/>
<g font-family="'Liberation Sans', sans-serif" font-size="6" fill="#222" text-anchor="middle">
<text x="134.2" y="202" textLength="148" lengthAdjust="spacingAndGlyphs">2D Steady-State Conduction Equation (Gauss-Seidel Method)</text>
<text x="134.6" y="208.5" textLength="63.3" lengthAdjust="spacingAndGlyphs">Iterations Number = 2700</text>
<text x="135.5" y="214.8" textLength="54.2" lengthAdjust="spacingAndGlyphs">Time Taken = 346.49 s</text>
</g>
<path d="M86.5 372.8v1.5M57.1 343.1h-1.5M118.4 372.8v1.5M57.1 310.9h-1.5M150.4 372.8v1.5M57.1 278.8h-1.5M182.3 372.8v1.5M57.1 246.6h-1.5" stroke="#555" stroke-width="0.5"/>
<g font-family="'Liberation Sans', sans-serif" font-size="4.5" fill="#444"><text x="86.5" y="378.6" text-anchor="middle">0.2</text><text x="54.2" y="344.5" text-anchor="end">0.2</text><text x="118.4" y="378.6" text-anchor="middle">0.4</text><text x="54.2" y="312.3" text-anchor="end">0.4</text><text x="150.4" y="378.6" text-anchor="middle">0.6</text><text x="54.2" y="280.2" text-anchor="end">0.6</text><text x="182.3" y="378.6" text-anchor="middle">0.8</text><text x="54.2" y="248.0" text-anchor="end">0.8</text></g>
<text x="134.5" y="384.6" font-family="'Liberation Sans', sans-serif" font-size="4.5" fill="#444" text-anchor="middle">X Axis</text>
<text transform="translate(45.6 295) rotate(-90)" font-family="'Liberation Sans', sans-serif" font-size="4.5" fill="#444" text-anchor="middle">Y Axis</text>
<rect x="221.2" y="216.9" width="8.6" height="26" fill="#de0000"/>
<rect x="221.2" y="242.9" width="8.6" height="26" fill="#ff9400"/>
<rect x="221.2" y="268.9" width="8.6" height="26" fill="#c0ff36"/>
<rect x="221.2" y="294.9" width="8.6" height="26" fill="#36ffc0"/>
<rect x="221.2" y="320.9" width="8.6" height="26" fill="#0080ff"/>
<rect x="221.2" y="346.9" width="8.6" height="26" fill="#0000de"/>
<path d="M229.8 216.9h1.4M229.8 242.9h1.4M229.8 268.9h1.4M229.8 294.9h1.4M229.8 320.9h1.4M229.8 346.9h1.4M229.8 372.9h1.4" stroke="#555" stroke-width="0.5"/>
<g font-family="'Liberation Sans', sans-serif" font-size="4.6" fill="#222"><text x="232.2" y="218.4">105</text><text x="232.2" y="244.4">90</text><text x="232.2" y="270.4">75</text><text x="232.2" y="296.4">60</text><text x="232.2" y="322.4">45</text><text x="232.2" y="348.4">30</text><text x="232.2" y="374.4">15</text></g>
<linearGradient id="ansbg" x1="0" y1="0" x2="0" y2="1"><stop offset="0" stop-color="#6687d8"/><stop offset="0.166" stop-color="#7a98de"/><stop offset="0.45" stop-color="#aabbea"/><stop offset="0.76" stop-color="#dce3f5"/><stop offset="1" stop-color="#f6f7fc"/></linearGradient>
<rect x="276.2" y="193.6" width="267.5" height="192.2" fill="url(#ansbg)"/>
<clipPath id="cpR"><polygon points="323.2,202.6 410.2,202.6 496.7,289.6 496.7,376.7 323.2,376.7"/></clipPath>
<pattern id="mesh" width="2.45" height="2.45" patternUnits="userSpaceOnUse" x="323.2" y="202.6"><path d="M0 0H2.45M0 0V2.45" stroke="#000" stroke-width="1" opacity="0.62"/></pattern>
<g clip-path="url(#cpR)">
<rect x="323" y="202" width="175" height="176" fill="#0000ff"/>
<path d="M426.2 351.7L427.3 351.7L428.4 351.7L429.5 351.7L430.6 351.7L431.6 351.7L432.7 351.7L433.2 351.7L433.8 351.7L434.9 351.6L436.0 351.6L437.1 351.5L438.1 351.4L439.2 351.3L440.3 351.2L441.4 351.1L442.5 351.0L443.6 350.9L444.6 350.7L445.5 350.6L445.7 350.6L446.8 350.4L447.9 350.2L449.0 350.0L450.1 349.7L451.2 349.5L451.2 349.5L452.2 349.2L453.3 349.0L454.4 348.7L455.2 348.4L455.5 348.3L456.6 348.0L457.7 347.6L458.5 347.3L458.7 347.2L459.8 346.8L460.9 346.3L461.2 346.2L462.0 345.9L463.1 345.3L463.5 345.1L464.2 344.8L465.3 344.2L465.5 344.1L466.3 343.6L467.3 343.0L467.4 342.9L468.5 342.2L468.9 341.9L469.6 341.4L470.4 340.8L470.7 340.6L471.8 339.7L471.8 339.7L472.8 338.8L473.0 338.6L473.9 337.8L474.2 337.5L475.0 336.7L475.3 336.4L476.1 335.6L476.3 335.4L477.2 334.4L477.3 334.3L478.2 333.2L478.3 333.0L479.0 332.1L479.4 331.6L479.8 331.0L480.4 330.1L480.6 329.9L481.3 328.8L481.5 328.5L482.0 327.7L482.6 326.8L482.7 326.6L483.3 325.6L483.7 324.9L483.9 324.5L484.5 323.4L484.8 322.9L485.1 322.3L485.7 321.2L485.9 320.8L486.2 320.1L486.7 319.0L486.9 318.5L487.2 317.9L487.7 316.9L488.0 316.0L488.1 315.8L488.6 314.7L489.0 313.6L489.1 313.4L489.5 312.5L489.9 311.4L490.2 310.6L490.3 310.3L490.7 309.2L491.1 308.1L491.3 307.6L491.4 307.1L491.8 306.0L492.2 304.9L492.4 304.3L492.5 303.8L492.9 302.7L493.2 301.6L493.4 300.9L493.5 300.5L493.9 299.4L494.2 298.4L494.5 297.3L494.5 297.2L494.8 296.2L495.1 295.1L495.4 294.0L495.6 293.4L495.7 292.9L496.0 291.8L496.2 290.7L496.4 289.6L496.7 289.5L496.7 288.6L496.7 287.5L496.7 286.4L496.7 285.3L496.7 284.2L496.7 283.1L496.7 282.0L496.7 280.9L496.7 279.9L496.7 278.8L496.7 277.7L496.7 276.6L496.7 275.5L496.7 274.4L496.7 273.3L496.7 272.2L496.7 271.2L496.7 270.1L496.7 269.0L496.7 267.9L496.7 266.8L496.7 265.7L496.7 264.6L496.7 263.5L496.7 262.4L496.7 261.4L496.7 260.3L496.7 259.2L496.7 258.1L496.7 257.0L496.7 255.9L496.7 254.8L496.7 253.7L496.7 252.7L496.7 251.6L496.7 250.5L496.7 249.4L496.7 248.3L496.7 247.2L496.7 246.1L496.7 245.0L496.7 243.9L496.7 242.9L496.7 241.8L496.7 240.7L496.7 239.6L496.7 238.5L496.7 237.4L496.7 236.3L496.7 235.2L496.7 234.2L496.7 233.1L496.7 232.0L496.7 230.9L496.7 229.8L496.7 228.7L496.7 227.6L496.7 226.5L496.7 225.5L496.7 224.4L496.7 223.3L496.7 222.2L496.7 221.1L496.7 220.0L496.7 218.9L496.7 217.8L496.7 216.7L496.7 215.7L496.7 214.6L496.7 213.5L496.7 212.4L496.7 211.3L496.7 210.2L496.7 209.1L496.7 208.0L496.7 207.0L496.7 205.9L496.7 204.8L496.7 203.7L496.7 202.6L495.6 202.6L494.5 202.6L493.4 202.6L492.4 202.6L491.3 202.6L490.2 202.6L489.1 202.6L488.0 202.6L486.9 202.6L485.9 202.6L484.8 202.6L483.7 202.6L482.6 202.6L481.5 202.6L480.4 202.6L479.4 202.6L478.3 202.6L477.2 202.6L476.1 202.6L475.0 202.6L473.9 202.6L472.8 202.6L471.8 202.6L470.7 202.6L469.6 202.6L468.5 202.6L467.4 202.6L466.3 202.6L465.3 202.6L464.2 202.6L463.1 202.6L462.0 202.6L460.9 202.6L459.8 202.6L458.7 202.6L457.7 202.6L456.6 202.6L455.5 202.6L454.4 202.6L453.3 202.6L452.2 202.6L451.2 202.6L450.1 202.6L449.0 202.6L447.9 202.6L446.8 202.6L445.7 202.6L444.6 202.6L443.6 202.6L442.5 202.6L441.4 202.6L440.3 202.6L439.2 202.6L438.1 202.6L437.1 202.6L436.0 202.6L434.9 202.6L433.8 202.6L432.7 202.6L431.6 202.6L430.6 202.6L429.5 202.6L428.4 202.6L427.3 202.6L426.2 202.6L425.1 202.6L424.0 202.6L423.0 202.6L421.9 202.6L420.8 202.6L419.7 202.6L418.6 202.6L417.5 202.6L416.5 202.6L415.4 202.6L414.3 202.6L413.2 202.6L412.1 202.6L411.0 202.6L409.9 202.6L408.9 202.6L407.8 202.6L406.7 202.6L405.6 202.6L404.5 202.6L403.4 202.6L402.4 202.6L401.3 202.6L400.2 202.6L399.1 202.6L398.0 202.6L396.9 202.6L395.9 202.6L394.8 202.6L393.7 202.6L392.6 202.6L391.5 202.6L390.4 202.6L389.3 202.6L388.3 202.6L387.2 202.6L386.1 202.6L385.0 202.6L383.9 202.6L382.8 202.6L381.8 202.6L380.7 202.6L379.6 202.6L378.5 202.6L377.4 202.6L376.3 202.6L375.2 202.6L374.2 202.6L373.1 202.6L372.0 202.6L370.9 202.6L369.8 202.6L368.7 202.6L367.7 202.6L366.6 202.6L365.5 202.6L364.4 202.6L363.3 202.6L362.2 202.6L361.2 202.6L360.1 202.6L359.0 202.6L357.9 202.6L356.8 202.6L355.7 202.6L354.6 202.6L353.6 202.6L352.5 202.6L351.4 202.6L350.3 202.6L349.2 202.6L348.1 202.6L347.1 202.6L346.0 202.6L344.9 202.6L343.8 202.6L342.7 202.6L341.6 202.6L340.6 202.6L339.5 202.6L338.4 202.6L337.3 202.6L336.2 202.6L335.1 202.6L334.0 202.6L333.0 202.6L331.9 202.6L330.8 202.6L329.7 202.6L328.6 202.6L327.5 202.6L326.5 202.6L325.4 202.6L324.3 202.6L323.2 202.6L323.2 203.6L323.4 203.7L323.6 204.8L323.8 205.9L324.0 207.0L324.1 208.0L324.3 208.9L324.3 209.1L324.5 210.2L324.7 211.3L324.9 212.4L325.1 213.5L325.3 214.6L325.4 215.0L325.5 215.7L325.7 216.7L325.9 217.8L326.1 218.9L326.3 220.0L326.4 221.1L326.5 221.1L326.6 222.2L326.8 223.3L327.0 224.4L327.2 225.5L327.4 226.5L327.5 227.3L327.6 227.6L327.8 228.7L328.0 229.8L328.2 230.9L328.4 232.0L328.6 233.1L328.6 233.4L328.8 234.2L329.0 235.2L329.2 236.3L329.3 237.4L329.5 238.5L329.7 239.4L329.7 239.6L329.9 240.7L330.1 241.8L330.3 242.9L330.5 243.9L330.7 245.0L330.8 245.4L330.9 246.1L331.1 247.2L331.3 248.3L331.5 249.4L331.7 250.5L331.9 251.2L331.9 251.6L332.2 252.7L332.4 253.7L332.6 254.8L332.8 255.9L333.0 256.8L333.0 257.0L333.2 258.1L333.4 259.2L333.7 260.3L333.9 261.4L334.0 262.2L334.1 262.4L334.3 263.5L334.5 264.6L334.8 265.7L335.0 266.8L335.1 267.3L335.2 267.9L335.5 269.0L335.7 270.1L336.0 271.2L336.2 272.2L336.2 272.2L336.5 273.3L336.7 274.4L337.0 275.5L337.2 276.6L337.3 276.8L337.5 277.7L337.8 278.8L338.1 279.9L338.3 280.9L338.4 281.1L338.6 282.0L338.9 283.1L339.2 284.2L339.5 285.2L339.5 285.3L339.8 286.4L340.1 287.5L340.4 288.6L340.6 289.0L340.8 289.6L341.1 290.7L341.4 291.8L341.6 292.5L341.8 292.9L342.1 294.0L342.5 295.1L342.7 295.8L342.9 296.2L343.2 297.3L343.6 298.4L343.8 298.8L344.0 299.4L344.4 300.5L344.9 301.6L344.9 301.7L345.3 302.7L345.7 303.8L346.0 304.4L346.2 304.9L346.6 306.0L347.1 306.9L347.1 307.1L347.6 308.1L348.1 309.2L348.1 309.2L348.7 310.3L349.2 311.4L349.2 311.4L349.8 312.5L350.3 313.5L350.4 313.6L351.0 314.7L351.4 315.4L351.6 315.8L352.2 316.9L352.5 317.3L352.9 317.9L353.6 319.0L353.6 319.0L354.3 320.1L354.6 320.6L355.1 321.2L355.7 322.1L355.9 322.3L356.7 323.4L356.8 323.6L357.5 324.5L357.9 324.9L358.4 325.6L359.0 326.2L359.4 326.6L360.1 327.4L360.3 327.7L361.2 328.6L361.4 328.8L362.2 329.7L362.5 329.9L363.3 330.7L363.6 331.0L364.4 331.7L364.8 332.1L365.5 332.7L366.1 333.2L366.6 333.6L367.4 334.3L367.7 334.5L368.7 335.3L368.8 335.4L369.8 336.1L370.4 336.4L370.9 336.8L372.0 337.5L372.0 337.5L373.1 338.2L373.7 338.6L374.2 338.9L375.2 339.5L375.6 339.7L376.3 340.1L377.4 340.7L377.7 340.8L378.5 341.2L379.6 341.8L379.9 341.9L380.7 342.3L381.8 342.7L382.3 343.0L382.8 343.2L383.9 343.7L384.9 344.1L385.0 344.1L386.1 344.5L387.2 344.9L387.8 345.1L388.3 345.3L389.3 345.7L390.4 346.0L391.1 346.2L391.5 346.3L392.6 346.7L393.7 347.0L394.8 347.3L394.9 347.3L395.9 347.6L396.9 347.8L398.0 348.1L399.1 348.4L399.3 348.4L400.2 348.6L401.3 348.8L402.4 349.1L403.4 349.3L404.5 349.5L404.6 349.5L405.6 349.7L406.7 349.9L407.8 350.0L408.9 350.2L409.9 350.4L411.0 350.5L411.7 350.6L412.1 350.6L413.2 350.8L414.3 350.9L415.4 351.0L416.5 351.1L417.5 351.2L418.6 351.3L419.7 351.4L420.8 351.5L421.9 351.5L423.0 351.6L424.0 351.6L425.1 351.7L425.6 351.7Z" fill="#00b2ff"/>
<path d="M424.0 330.0L425.1 330.2L426.2 330.3L427.3 330.4L428.4 330.5L429.5 330.5L430.6 330.6L431.6 330.7L432.7 330.7L433.8 330.7L434.9 330.7L436.0 330.7L437.1 330.7L438.1 330.7L439.2 330.6L440.3 330.5L441.4 330.5L442.5 330.4L443.6 330.3L444.6 330.1L445.7 330.0L446.2 329.9L446.8 329.8L447.9 329.6L449.0 329.4L450.1 329.2L451.2 329.0L451.8 328.8L452.2 328.7L453.3 328.4L454.4 328.1L455.5 327.8L455.8 327.7L456.6 327.5L457.7 327.1L458.7 326.7L458.9 326.6L459.8 326.3L460.9 325.9L461.6 325.6L462.0 325.4L463.1 324.9L464.0 324.5L464.2 324.4L465.3 323.8L466.1 323.4L466.3 323.2L467.4 322.6L467.9 322.3L468.5 322.0L469.6 321.3L469.7 321.2L470.7 320.6L471.3 320.1L471.8 319.8L472.8 319.0L472.8 319.0L473.9 318.2L474.2 317.9L475.0 317.3L475.5 316.9L476.1 316.4L476.8 315.8L477.2 315.4L478.0 314.7L478.3 314.4L479.1 313.6L479.4 313.3L480.2 312.5L480.4 312.2L481.2 311.4L481.5 311.1L482.2 310.3L482.6 309.9L483.2 309.2L483.7 308.6L484.1 308.1L484.8 307.3L485.0 307.1L485.8 306.0L485.9 306.0L486.7 304.9L486.9 304.6L487.5 303.8L488.0 303.1L488.3 302.7L489.1 301.6L489.1 301.5L489.8 300.5L490.2 300.0L490.5 299.4L491.2 298.4L491.3 298.3L491.9 297.3L492.4 296.6L492.6 296.2L493.3 295.1L493.4 294.9L493.9 294.0L494.5 293.0L494.6 292.9L495.2 291.8L495.6 291.2L495.8 290.7L496.2 289.6L496.7 289.4L496.7 288.6L496.7 287.5L496.7 286.4L496.7 285.3L496.7 284.2L496.7 283.1L496.7 282.0L496.7 280.9L496.7 279.9L496.7 278.8L496.7 277.7L496.7 276.6L496.7 275.5L496.7 274.4L496.7 273.3L496.7 272.2L496.7 271.2L496.7 270.1L496.7 269.0L496.7 267.9L496.7 266.8L496.7 265.7L496.7 264.6L496.7 263.5L496.7 262.4L496.7 261.4L496.7 260.3L496.7 259.2L496.7 258.1L496.7 257.0L496.7 255.9L496.7 254.8L496.7 253.7L496.7 252.7L496.7 251.6L496.7 250.5L496.7 249.4L496.7 248.3L496.7 247.2L496.7 246.1L496.7 245.0L496.7 243.9L496.7 242.9L496.7 241.8L496.7 240.7L496.7 239.6L496.7 238.5L496.7 237.4L496.7 236.3L496.7 235.2L496.7 234.2L496.7 233.1L496.7 232.0L496.7 230.9L496.7 229.8L496.7 228.7L496.7 227.6L496.7 226.5L496.7 225.5L496.7 224.4L496.7 223.3L496.7 222.2L496.7 221.1L496.7 220.0L496.7 218.9L496.7 217.8L496.7 216.7L496.7 215.7L496.7 214.6L496.7 213.5L496.7 212.4L496.7 211.3L496.7 210.2L496.7 209.1L496.7 208.0L496.7 207.0L496.7 205.9L496.7 204.8L496.7 203.7L496.7 202.6L495.6 202.6L494.5 202.6L493.4 202.6L492.4 202.6L491.3 202.6L490.2 202.6L489.1 202.6L488.0 202.6L486.9 202.6L485.9 202.6L484.8 202.6L483.7 202.6L482.6 202.6L481.5 202.6L480.4 202.6L479.4 202.6L478.3 202.6L477.2 202.6L476.1 202.6L475.0 202.6L473.9 202.6L472.8 202.6L471.8 202.6L470.7 202.6L469.6 202.6L468.5 202.6L467.4 202.6L466.3 202.6L465.3 202.6L464.2 202.6L463.1 202.6L462.0 202.6L460.9 202.6L459.8 202.6L458.7 202.6L457.7 202.6L456.6 202.6L455.5 202.6L454.4 202.6L453.3 202.6L452.2 202.6L451.2 202.6L450.1 202.6L449.0 202.6L447.9 202.6L446.8 202.6L445.7 202.6L444.6 202.6L443.6 202.6L442.5 202.6L441.4 202.6L440.3 202.6L439.2 202.6L438.1 202.6L437.1 202.6L436.0 202.6L434.9 202.6L433.8 202.6L432.7 202.6L431.6 202.6L430.6 202.6L429.5 202.6L428.4 202.6L427.3 202.6L426.2 202.6L425.1 202.6L424.0 202.6L423.0 202.6L421.9 202.6L420.8 202.6L419.7 202.6L418.6 202.6L417.5 202.6L416.5 202.6L415.4 202.6L414.3 202.6L413.2 202.6L412.1 202.6L411.0 202.6L409.9 202.6L408.9 202.6L407.8 202.6L406.7 202.6L405.6 202.6L404.5 202.6L403.4 202.6L402.4 202.6L401.3 202.6L400.2 202.6L399.1 202.6L398.0 202.6L396.9 202.6L395.9 202.6L394.8 202.6L393.7 202.6L392.6 202.6L391.5 202.6L390.4 202.6L389.3 202.6L388.3 202.6L387.2 202.6L386.1 202.6L385.0 202.6L383.9 202.6L382.8 202.6L381.8 202.6L380.7 202.6L379.6 202.6L378.5 202.6L377.4 202.6L376.3 202.6L375.2 202.6L374.2 202.6L373.1 202.6L372.0 202.6L370.9 202.6L369.8 202.6L368.7 202.6L367.7 202.6L366.6 202.6L365.5 202.6L364.4 202.6L363.3 202.6L362.2 202.6L361.2 202.6L360.1 202.6L359.0 202.6L357.9 202.6L356.8 202.6L355.7 202.6L354.6 202.6L353.6 202.6L352.5 202.6L351.4 202.6L350.3 202.6L349.2 202.6L348.1 202.6L347.1 202.6L346.0 202.6L344.9 202.6L343.8 202.6L342.7 202.6L341.6 202.6L340.6 202.6L339.5 202.6L338.4 202.6L337.3 202.6L336.2 202.6L335.1 202.6L334.0 202.6L333.0 202.6L331.9 202.6L330.8 202.6L329.7 202.6L328.6 202.6L327.5 202.6L326.5 202.6L325.4 202.6L324.3 202.6L323.2 202.6L323.2 203.4L323.7 203.7L324.0 204.8L324.3 205.7L324.4 205.9L324.8 207.0L325.2 208.0L325.4 208.7L325.6 209.1L326.0 210.2L326.4 211.3L326.5 211.6L326.8 212.4L327.1 213.5L327.5 214.6L327.5 214.6L327.9 215.7L328.3 216.7L328.6 217.6L328.7 217.8L329.1 218.9L329.5 220.0L329.7 220.6L329.9 221.1L330.3 222.2L330.7 223.3L330.8 223.5L331.1 224.4L331.5 225.5L331.9 226.5L331.9 226.5L332.3 227.6L332.7 228.7L333.0 229.5L333.1 229.8L333.5 230.9L333.9 232.0L334.0 232.4L334.3 233.1L334.7 234.2L335.1 235.2L335.1 235.4L335.5 236.3L335.9 237.4L336.2 238.3L336.3 238.5L336.7 239.6L337.1 240.7L337.3 241.2L337.5 241.8L337.9 242.9L338.3 243.9L338.4 244.1L338.7 245.0L339.2 246.1L339.5 246.9L339.6 247.2L340.0 248.3L340.4 249.4L340.6 249.7L340.8 250.5L341.3 251.6L341.6 252.5L341.7 252.7L342.1 253.7L342.6 254.8L342.7 255.2L343.0 255.9L343.4 257.0L343.8 257.9L343.9 258.1L344.3 259.2L344.8 260.3L344.9 260.5L345.3 261.4L345.7 262.4L346.0 263.1L346.2 263.5L346.7 264.6L347.1 265.5L347.1 265.7L347.6 266.8L348.1 267.9L348.1 268.0L348.6 269.0L349.1 270.1L349.2 270.3L349.6 271.2L350.1 272.2L350.3 272.6L350.7 273.3L351.2 274.4L351.4 274.8L351.7 275.5L352.3 276.6L352.5 277.0L352.9 277.7L353.4 278.8L353.6 279.0L354.0 279.9L354.6 280.9L354.6 281.0L355.2 282.0L355.7 283.0L355.8 283.1L356.4 284.2L356.8 284.9L357.1 285.3L357.7 286.4L357.9 286.7L358.4 287.5L359.0 288.4L359.1 288.6L359.8 289.6L360.1 290.1L360.5 290.7L361.2 291.7L361.2 291.8L362.0 292.9L362.2 293.3L362.8 294.0L363.3 294.8L363.5 295.1L364.4 296.2L364.4 296.2L365.2 297.3L365.5 297.6L366.1 298.4L366.6 299.0L366.9 299.4L367.7 300.3L367.9 300.5L368.7 301.6L368.8 301.6L369.8 302.7L369.8 302.8L370.8 303.8L370.9 303.9L371.8 304.9L372.0 305.1L372.9 306.0L373.1 306.1L374.0 307.1L374.2 307.2L375.2 308.1L375.2 308.2L376.3 309.2L376.4 309.2L377.4 310.1L377.7 310.3L378.5 311.0L379.0 311.4L379.6 311.9L380.3 312.5L380.7 312.8L381.8 313.6L381.8 313.6L382.8 314.4L383.3 314.7L383.9 315.1L384.9 315.8L385.0 315.9L386.1 316.6L386.5 316.9L387.2 317.3L388.3 317.9L388.3 317.9L389.3 318.6L390.1 319.0L390.4 319.2L391.5 319.8L392.1 320.1L392.6 320.4L393.7 320.9L394.2 321.2L394.8 321.5L395.9 322.0L396.5 322.3L396.9 322.5L398.0 323.0L399.0 323.4L399.1 323.4L400.2 323.9L401.3 324.3L401.7 324.5L402.4 324.7L403.4 325.1L404.5 325.5L404.7 325.6L405.6 325.9L406.7 326.2L407.8 326.6L408.0 326.6L408.9 326.9L409.9 327.2L411.0 327.5L411.9 327.7L412.1 327.8L413.2 328.1L414.3 328.3L415.4 328.6L416.5 328.8L416.6 328.8L417.5 329.0L418.6 329.2L419.7 329.4L420.8 329.6L421.9 329.7L423.0 329.9L423.1 329.9Z" fill="#00ffff"/>
<path d="M432.7 313.6L433.8 313.7L434.9 313.9L436.0 314.0L437.1 314.1L438.1 314.2L439.2 314.2L440.3 314.3L441.4 314.3L442.5 314.3L443.6 314.3L444.6 314.3L445.7 314.3L446.8 314.3L447.9 314.2L449.0 314.1L450.1 314.0L451.2 313.9L452.2 313.8L453.3 313.6L453.7 313.6L454.4 313.5L455.5 313.3L456.6 313.1L457.7 312.9L458.7 312.6L459.4 312.5L459.8 312.4L460.9 312.1L462.0 311.8L463.1 311.5L463.3 311.4L464.2 311.2L465.3 310.8L466.3 310.4L466.6 310.3L467.4 310.0L468.5 309.6L469.3 309.2L469.6 309.1L470.7 308.6L471.7 308.1L471.8 308.1L472.8 307.6L473.9 307.1L473.9 307.1L475.0 306.5L475.9 306.0L476.1 305.9L477.2 305.3L477.8 304.9L478.3 304.6L479.3 303.9L479.5 303.8L480.4 303.2L481.2 302.7L481.5 302.5L482.6 301.7L482.7 301.6L483.7 300.9L484.2 300.5L484.8 300.1L485.6 299.4L485.9 299.3L486.9 298.4L487.0 298.4L488.0 297.5L488.2 297.3L489.1 296.5L489.5 296.2L490.2 295.6L490.7 295.1L491.3 294.6L491.8 294.0L492.4 293.6L493.0 292.9L493.4 292.5L494.0 291.8L494.5 291.4L495.1 290.7L495.6 290.3L495.9 289.6L496.7 289.3L496.7 288.6L496.7 287.5L496.7 286.4L496.7 285.3L496.7 284.2L496.7 283.1L496.7 282.0L496.7 280.9L496.7 279.9L496.7 278.8L496.7 277.7L496.7 276.6L496.7 275.5L496.7 274.4L496.7 273.3L496.7 272.2L496.7 271.2L496.7 270.1L496.7 269.0L496.7 267.9L496.7 266.8L496.7 265.7L496.7 264.6L496.7 263.5L496.7 262.4L496.7 261.4L496.7 260.3L496.7 259.2L496.7 258.1L496.7 257.0L496.7 255.9L496.7 254.8L496.7 253.7L496.7 252.7L496.7 251.6L496.7 250.5L496.7 249.4L496.7 248.3L496.7 247.2L496.7 246.1L496.7 245.0L496.7 243.9L496.7 242.9L496.7 241.8L496.7 240.7L496.7 239.6L496.7 238.5L496.7 237.4L496.7 236.3L496.7 235.2L496.7 234.2L496.7 233.1L496.7 232.0L496.7 230.9L496.7 229.8L496.7 228.7L496.7 227.6L496.7 226.5L496.7 225.5L496.7 224.4L496.7 223.3L496.7 222.2L496.7 221.1L496.7 220.0L496.7 218.9L496.7 217.8L496.7 216.7L496.7 215.7L496.7 214.6L496.7 213.5L496.7 212.4L496.7 211.3L496.7 210.2L496.7 209.1L496.7 208.0L496.7 207.0L496.7 205.9L496.7 204.8L496.7 203.7L496.7 202.6L495.6 202.6L494.5 202.6L493.4 202.6L492.4 202.6L491.3 202.6L490.2 202.6L489.1 202.6L488.0 202.6L486.9 202.6L485.9 202.6L484.8 202.6L483.7 202.6L482.6 202.6L481.5 202.6L480.4 202.6L479.4 202.6L478.3 202.6L477.2 202.6L476.1 202.6L475.0 202.6L473.9 202.6L472.8 202.6L471.8 202.6L470.7 202.6L469.6 202.6L468.5 202.6L467.4 202.6L466.3 202.6L465.3 202.6L464.2 202.6L463.1 202.6L462.0 202.6L460.9 202.6L459.8 202.6L458.7 202.6L457.7 202.6L456.6 202.6L455.5 202.6L454.4 202.6L453.3 202.6L452.2 202.6L451.2 202.6L450.1 202.6L449.0 202.6L447.9 202.6L446.8 202.6L445.7 202.6L444.6 202.6L443.6 202.6L442.5 202.6L441.4 202.6L440.3 202.6L439.2 202.6L438.1 202.6L437.1 202.6L436.0 202.6L434.9 202.6L433.8 202.6L432.7 202.6L431.6 202.6L430.6 202.6L429.5 202.6L428.4 202.6L427.3 202.6L426.2 202.6L425.1 202.6L424.0 202.6L423.0 202.6L421.9 202.6L420.8 202.6L419.7 202.6L418.6 202.6L417.5 202.6L416.5 202.6L415.4 202.6L414.3 202.6L413.2 202.6L412.1 202.6L411.0 202.6L409.9 202.6L408.9 202.6L407.8 202.6L406.7 202.6L405.6 202.6L404.5 202.6L403.4 202.6L402.4 202.6L401.3 202.6L400.2 202.6L399.1 202.6L398.0 202.6L396.9 202.6L395.9 202.6L394.8 202.6L393.7 202.6L392.6 202.6L391.5 202.6L390.4 202.6L389.3 202.6L388.3 202.6L387.2 202.6L386.1 202.6L385.0 202.6L383.9 202.6L382.8 202.6L381.8 202.6L380.7 202.6L379.6 202.6L378.5 202.6L377.4 202.6L376.3 202.6L375.2 202.6L374.2 202.6L373.1 202.6L372.0 202.6L370.9 202.6L369.8 202.6L368.7 202.6L367.7 202.6L366.6 202.6L365.5 202.6L364.4 202.6L363.3 202.6L362.2 202.6L361.2 202.6L360.1 202.6L359.0 202.6L357.9 202.6L356.8 202.6L355.7 202.6L354.6 202.6L353.6 202.6L352.5 202.6L351.4 202.6L350.3 202.6L349.2 202.6L348.1 202.6L347.1 202.6L346.0 202.6L344.9 202.6L343.8 202.6L342.7 202.6L341.6 202.6L340.6 202.6L339.5 202.6L338.4 202.6L337.3 202.6L336.2 202.6L335.1 202.6L334.0 202.6L333.0 202.6L331.9 202.6L330.8 202.6L329.7 202.6L328.6 202.6L327.5 202.6L326.5 202.6L325.4 202.6L324.3 202.6L323.2 202.6L323.2 203.3L323.9 203.7L324.3 204.6L324.5 204.8L325.1 205.9L325.4 206.5L325.7 207.0L326.3 208.0L326.5 208.3L327.0 209.1L327.5 210.2L327.6 210.2L328.2 211.3L328.6 212.1L328.8 212.4L329.5 213.5L329.7 213.9L330.1 214.6L330.7 215.7L330.8 215.8L331.3 216.7L331.9 217.7L332.0 217.8L332.6 218.9L333.0 219.6L333.2 220.0L333.8 221.1L334.0 221.5L334.5 222.2L335.1 223.3L335.1 223.3L335.7 224.4L336.2 225.2L336.4 225.5L337.0 226.5L337.3 227.1L337.6 227.6L338.2 228.7L338.4 229.0L338.9 229.8L339.5 230.8L339.5 230.9L340.1 232.0L340.6 232.7L340.8 233.1L341.4 234.2L341.6 234.6L342.0 235.2L342.7 236.3L342.7 236.4L343.3 237.4L343.8 238.2L344.0 238.5L344.6 239.6L344.9 240.1L345.2 240.7L345.9 241.8L346.0 241.9L346.5 242.9L347.1 243.7L347.2 243.9L347.8 245.0L348.1 245.5L348.5 246.1L349.2 247.2L349.2 247.3L349.8 248.3L350.3 249.1L350.5 249.4L351.2 250.5L351.4 250.8L351.8 251.6L352.5 252.6L352.5 252.7L353.2 253.7L353.6 254.3L353.9 254.8L354.6 255.9L354.6 256.0L355.3 257.0L355.7 257.7L356.0 258.1L356.7 259.2L356.8 259.3L357.5 260.3L357.9 260.9L358.2 261.4L358.9 262.4L359.0 262.5L359.7 263.5L360.1 264.1L360.4 264.6L361.2 265.6L361.2 265.7L362.0 266.8L362.2 267.2L362.8 267.9L363.3 268.6L363.6 269.0L364.4 270.1L364.4 270.1L365.2 271.2L365.5 271.5L366.0 272.2L366.6 272.9L366.9 273.3L367.7 274.3L367.8 274.4L368.6 275.5L368.7 275.6L369.5 276.6L369.8 276.9L370.5 277.7L370.9 278.2L371.4 278.8L372.0 279.5L372.3 279.9L373.1 280.7L373.3 280.9L374.2 281.9L374.3 282.0L375.2 283.0L375.3 283.1L376.3 284.2L376.4 284.2L377.4 285.3L377.5 285.3L378.5 286.3L378.6 286.4L379.6 287.4L379.7 287.5L380.7 288.4L380.9 288.6L381.8 289.4L382.1 289.6L382.8 290.4L383.3 290.7L383.9 291.3L384.6 291.8L385.0 292.2L385.9 292.9L386.1 293.1L387.2 294.0L387.2 294.0L388.3 294.8L388.6 295.1L389.3 295.6L390.1 296.2L390.4 296.4L391.5 297.2L391.6 297.3L392.6 298.0L393.2 298.4L393.7 298.7L394.8 299.4L394.8 299.4L395.9 300.1L396.6 300.5L396.9 300.8L398.0 301.4L398.4 301.6L399.1 302.0L400.2 302.7L400.3 302.7L401.3 303.3L402.3 303.8L402.4 303.8L403.4 304.4L404.4 304.9L404.5 304.9L405.6 305.5L406.7 306.0L406.7 306.0L407.8 306.5L408.9 306.9L409.2 307.1L409.9 307.4L411.0 307.8L411.8 308.1L412.1 308.3L413.2 308.7L414.3 309.1L414.8 309.2L415.4 309.5L416.5 309.8L417.5 310.2L418.0 310.3L418.6 310.5L419.7 310.8L420.8 311.1L421.8 311.4L421.9 311.4L423.0 311.7L424.0 312.0L425.1 312.2L426.2 312.5L426.3 312.5L427.3 312.7L428.4 312.9L429.5 313.1L430.6 313.3L431.6 313.5L432.6 313.6Z" fill="#00ffb2"/>
<path d="M447.9 301.7L449.0 301.7L450.1 301.8L451.2 301.9L452.2 301.9L453.3 301.9L454.4 302.0L455.5 302.0L456.6 301.9L457.7 301.9L458.7 301.9L459.8 301.8L460.9 301.7L461.9 301.6L462.0 301.6L463.1 301.5L464.2 301.4L465.3 301.2L466.3 301.1L467.4 300.9L468.5 300.7L469.2 300.5L469.6 300.5L470.7 300.2L471.8 300.0L472.8 299.7L473.9 299.4L473.9 299.4L475.0 299.1L476.1 298.8L477.2 298.5L477.5 298.4L478.3 298.1L479.4 297.7L480.4 297.3L480.6 297.3L481.5 296.9L482.6 296.5L483.3 296.2L483.7 296.0L484.8 295.6L485.8 295.1L485.9 295.1L486.9 294.6L488.0 294.0L488.1 294.0L489.1 293.5L490.2 292.9L490.2 292.9L491.3 292.4L492.2 291.8L492.4 291.7L493.4 291.1L494.0 290.7L494.5 290.5L495.6 289.7L495.7 289.6L496.7 289.2L496.7 288.6L496.7 287.5L496.7 286.4L496.7 285.3L496.7 284.2L496.7 283.1L496.7 282.0L496.7 280.9L496.7 279.9L496.7 278.8L496.7 277.7L496.7 276.6L496.7 275.5L496.7 274.4L496.7 273.3L496.7 272.2L496.7 271.2L496.7 270.1L496.7 269.0L496.7 267.9L496.7 266.8L496.7 265.7L496.7 264.6L496.7 263.5L496.7 262.4L496.7 261.4L496.7 260.3L496.7 259.2L496.7 258.1L496.7 257.0L496.7 255.9L496.7 254.8L496.7 253.7L496.7 252.7L496.7 251.6L496.7 250.5L496.7 249.4L496.7 248.3L496.7 247.2L496.7 246.1L496.7 245.0L496.7 243.9L496.7 242.9L496.7 241.8L496.7 240.7L496.7 239.6L496.7 238.5L496.7 237.4L496.7 236.3L496.7 235.2L496.7 234.2L496.7 233.1L496.7 232.0L496.7 230.9L496.7 229.8L496.7 228.7L496.7 227.6L496.7 226.5L496.7 225.5L496.7 224.4L496.7 223.3L496.7 222.2L496.7 221.1L496.7 220.0L496.7 218.9L496.7 217.8L496.7 216.7L496.7 215.7L496.7 214.6L496.7 213.5L496.7 212.4L496.7 211.3L496.7 210.2L496.7 209.1L496.7 208.0L496.7 207.0L496.7 205.9L496.7 204.8L496.7 203.7L496.7 202.6L495.6 202.6L494.5 202.6L493.4 202.6L492.4 202.6L491.3 202.6L490.2 202.6L489.1 202.6L488.0 202.6L486.9 202.6L485.9 202.6L484.8 202.6L483.7 202.6L482.6 202.6L481.5 202.6L480.4 202.6L479.4 202.6L478.3 202.6L477.2 202.6L476.1 202.6L475.0 202.6L473.9 202.6L472.8 202.6L471.8 202.6L470.7 202.6L469.6 202.6L468.5 202.6L467.4 202.6L466.3 202.6L465.3 202.6L464.2 202.6L463.1 202.6L462.0 202.6L460.9 202.6L459.8 202.6L458.7 202.6L457.7 202.6L456.6 202.6L455.5 202.6L454.4 202.6L453.3 202.6L452.2 202.6L451.2 202.6L450.1 202.6L449.0 202.6L447.9 202.6L446.8 202.6L445.7 202.6L444.6 202.6L443.6 202.6L442.5 202.6L441.4 202.6L440.3 202.6L439.2 202.6L438.1 202.6L437.1 202.6L436.0 202.6L434.9 202.6L433.8 202.6L432.7 202.6L431.6 202.6L430.6 202.6L429.5 202.6L428.4 202.6L427.3 202.6L426.2 202.6L425.1 202.6L424.0 202.6L423.0 202.6L421.9 202.6L420.8 202.6L419.7 202.6L418.6 202.6L417.5 202.6L416.5 202.6L415.4 202.6L414.3 202.6L413.2 202.6L412.1 202.6L411.0 202.6L409.9 202.6L408.9 202.6L407.8 202.6L406.7 202.6L405.6 202.6L404.5 202.6L403.4 202.6L402.4 202.6L401.3 202.6L400.2 202.6L399.1 202.6L398.0 202.6L396.9 202.6L395.9 202.6L394.8 202.6L393.7 202.6L392.6 202.6L391.5 202.6L390.4 202.6L389.3 202.6L388.3 202.6L387.2 202.6L386.1 202.6L385.0 202.6L383.9 202.6L382.8 202.6L381.8 202.6L380.7 202.6L379.6 202.6L378.5 202.6L377.4 202.6L376.3 202.6L375.2 202.6L374.2 202.6L373.1 202.6L372.0 202.6L370.9 202.6L369.8 202.6L368.7 202.6L367.7 202.6L366.6 202.6L365.5 202.6L364.4 202.6L363.3 202.6L362.2 202.6L361.2 202.6L360.1 202.6L359.0 202.6L357.9 202.6L356.8 202.6L355.7 202.6L354.6 202.6L353.6 202.6L352.5 202.6L351.4 202.6L350.3 202.6L349.2 202.6L348.1 202.6L347.1 202.6L346.0 202.6L344.9 202.6L343.8 202.6L342.7 202.6L341.6 202.6L340.6 202.6L339.5 202.6L338.4 202.6L337.3 202.6L336.2 202.6L335.1 202.6L334.0 202.6L333.0 202.6L331.9 202.6L330.8 202.6L329.7 202.6L328.6 202.6L327.5 202.6L326.5 202.6L325.4 202.6L324.3 202.6L323.2 202.6L323.2 203.2L324.2 203.7L324.3 204.0L325.1 204.8L325.4 205.3L326.0 205.9L326.5 206.5L326.9 207.0L327.5 207.8L327.8 208.0L328.6 209.1L328.7 209.1L329.6 210.2L329.7 210.4L330.5 211.3L330.8 211.7L331.4 212.4L331.9 213.0L332.3 213.5L333.0 214.3L333.2 214.6L334.0 215.6L334.1 215.7L335.0 216.7L335.1 216.9L335.9 217.8L336.2 218.2L336.9 218.9L337.3 219.5L337.8 220.0L338.4 220.8L338.7 221.1L339.5 222.1L339.6 222.2L340.5 223.3L340.6 223.3L341.4 224.4L341.6 224.6L342.3 225.5L342.7 225.9L343.2 226.5L343.8 227.2L344.1 227.6L344.9 228.5L345.1 228.7L346.0 229.8L346.0 229.8L346.9 230.9L347.1 231.1L347.8 232.0L348.1 232.4L348.7 233.1L349.2 233.7L349.6 234.2L350.3 235.0L350.6 235.2L351.4 236.2L351.5 236.3L352.4 237.4L352.5 237.5L353.3 238.5L353.6 238.8L354.3 239.6L354.6 240.1L355.2 240.7L355.7 241.3L356.1 241.8L356.8 242.6L357.1 242.9L357.9 243.8L358.0 243.9L358.9 245.0L359.0 245.1L359.9 246.1L360.1 246.3L360.8 247.2L361.2 247.6L361.8 248.3L362.2 248.8L362.8 249.4L363.3 250.0L363.7 250.5L364.4 251.3L364.7 251.6L365.5 252.5L365.7 252.7L366.6 253.7L366.7 253.7L367.6 254.8L367.7 254.8L368.7 255.9L368.7 256.0L369.7 257.0L369.8 257.2L370.7 258.1L370.9 258.3L371.7 259.2L372.0 259.5L372.8 260.3L373.1 260.6L373.8 261.4L374.2 261.7L374.9 262.4L375.2 262.8L376.0 263.5L376.3 263.9L377.0 264.6L377.4 265.0L378.2 265.7L378.5 266.1L379.3 266.8L379.6 267.1L380.4 267.9L380.7 268.1L381.6 269.0L381.8 269.1L382.8 270.1L382.8 270.1L383.9 271.1L384.0 271.2L385.0 272.1L385.2 272.2L386.1 273.0L386.4 273.3L387.2 274.0L387.7 274.4L388.3 274.9L389.0 275.5L389.3 275.8L390.3 276.6L390.4 276.7L391.5 277.5L391.7 277.7L392.6 278.4L393.1 278.8L393.7 279.2L394.5 279.9L394.8 280.0L395.9 280.8L396.0 280.9L396.9 281.6L397.5 282.0L398.0 282.4L399.1 283.1L399.1 283.1L400.2 283.9L400.7 284.2L401.3 284.6L402.4 285.3L402.4 285.3L403.4 286.0L404.1 286.4L404.5 286.7L405.6 287.3L405.9 287.5L406.7 287.9L407.8 288.6L407.8 288.6L408.9 289.2L409.7 289.6L409.9 289.8L411.0 290.4L411.8 290.7L412.1 290.9L413.2 291.5L413.9 291.8L414.3 292.0L415.4 292.5L416.2 292.9L416.5 293.0L417.5 293.5L418.6 294.0L418.6 294.0L419.7 294.5L420.8 294.9L421.2 295.1L421.9 295.4L423.0 295.8L424.0 296.2L424.0 296.2L425.1 296.6L426.2 297.0L427.1 297.3L427.3 297.3L428.4 297.7L429.5 298.0L430.6 298.3L430.6 298.4L431.6 298.6L432.7 298.9L433.8 299.2L434.7 299.4L434.9 299.5L436.0 299.8L437.1 300.0L438.1 300.2L439.2 300.4L439.7 300.5L440.3 300.6L441.4 300.8L442.5 301.0L443.6 301.2L444.6 301.3L445.7 301.4L446.8 301.6L447.5 301.6Z" fill="#00ff00"/>
<path d="M462.0 293.0L463.1 293.1L464.2 293.1L465.3 293.2L466.3 293.3L467.4 293.3L468.5 293.3L469.6 293.4L470.7 293.4L471.8 293.3L472.8 293.3L473.9 293.3L475.0 293.2L476.1 293.2L477.2 293.1L478.3 293.0L478.8 292.9L479.4 292.9L480.4 292.7L481.5 292.6L482.6 292.4L483.7 292.3L484.8 292.1L485.9 291.9L486.2 291.8L486.9 291.7L488.0 291.5L489.1 291.2L490.2 291.0L491.2 290.7L491.3 290.7L492.4 290.4L493.4 290.2L494.5 289.8L494.8 289.6L495.6 289.5L496.7 289.0L496.7 288.6L496.7 287.5L496.7 286.4L496.7 285.3L496.7 284.2L496.7 283.1L496.7 282.0L496.7 280.9L496.7 279.9L496.7 278.8L496.7 277.7L496.7 276.6L496.7 275.5L496.7 274.4L496.7 273.3L496.7 272.2L496.7 271.2L496.7 270.1L496.7 269.0L496.7 267.9L496.7 266.8L496.7 265.7L496.7 264.6L496.7 263.5L496.7 262.4L496.7 261.4L496.7 260.3L496.7 259.2L496.7 258.1L496.7 257.0L496.7 255.9L496.7 254.8L496.7 253.7L496.7 252.7L496.7 251.6L496.7 250.5L496.7 249.4L496.7 248.3L496.7 247.2L496.7 246.1L496.7 245.0L496.7 243.9L496.7 242.9L496.7 241.8L496.7 240.7L496.7 239.6L496.7 238.5L496.7 237.4L496.7 236.3L496.7 235.2L496.7 234.2L496.7 233.1L496.7 232.0L496.7 230.9L496.7 229.8L496.7 228.7L496.7 227.6L496.7 226.5L496.7 225.5L496.7 224.4L496.7 223.3L496.7 222.2L496.7 221.1L496.7 220.0L496.7 218.9L496.7 217.8L496.7 216.7L496.7 215.7L496.7 214.6L496.7 213.5L496.7 212.4L496.7 211.3L496.7 210.2L496.7 209.1L496.7 208.0L496.7 207.0L496.7 205.9L496.7 204.8L496.7 203.7L496.7 202.6L495.6 202.6L494.5 202.6L493.4 202.6L492.4 202.6L491.3 202.6L490.2 202.6L489.1 202.6L488.0 202.6L486.9 202.6L485.9 202.6L484.8 202.6L483.7 202.6L482.6 202.6L481.5 202.6L480.4 202.6L479.4 202.6L478.3 202.6L477.2 202.6L476.1 202.6L475.0 202.6L473.9 202.6L472.8 202.6L471.8 202.6L470.7 202.6L469.6 202.6L468.5 202.6L467.4 202.6L466.3 202.6L465.3 202.6L464.2 202.6L463.1 202.6L462.0 202.6L460.9 202.6L459.8 202.6L458.7 202.6L457.7 202.6L456.6 202.6L455.5 202.6L454.4 202.6L453.3 202.6L452.2 202.6L451.2 202.6L450.1 202.6L449.0 202.6L447.9 202.6L446.8 202.6L445.7 202.6L444.6 202.6L443.6 202.6L442.5 202.6L441.4 202.6L440.3 202.6L439.2 202.6L438.1 202.6L437.1 202.6L436.0 202.6L434.9 202.6L433.8 202.6L432.7 202.6L431.6 202.6L430.6 202.6L429.5 202.6L428.4 202.6L427.3 202.6L426.2 202.6L425.1 202.6L424.0 202.6L423.0 202.6L421.9 202.6L420.8 202.6L419.7 202.6L418.6 202.6L417.5 202.6L416.5 202.6L415.4 202.6L414.3 202.6L413.2 202.6L412.1 202.6L411.0 202.6L409.9 202.6L408.9 202.6L407.8 202.6L406.7 202.6L405.6 202.6L404.5 202.6L403.4 202.6L402.4 202.6L401.3 202.6L400.2 202.6L399.1 202.6L398.0 202.6L396.9 202.6L395.9 202.6L394.8 202.6L393.7 202.6L392.6 202.6L391.5 202.6L390.4 202.6L389.3 202.6L388.3 202.6L387.2 202.6L386.1 202.6L385.0 202.6L383.9 202.6L382.8 202.6L381.8 202.6L380.7 202.6L379.6 202.6L378.5 202.6L377.4 202.6L376.3 202.6L375.2 202.6L374.2 202.6L373.1 202.6L372.0 202.6L370.9 202.6L369.8 202.6L368.7 202.6L367.7 202.6L366.6 202.6L365.5 202.6L364.4 202.6L363.3 202.6L362.2 202.6L361.2 202.6L360.1 202.6L359.0 202.6L357.9 202.6L356.8 202.6L355.7 202.6L354.6 202.6L353.6 202.6L352.5 202.6L351.4 202.6L350.3 202.6L349.2 202.6L348.1 202.6L347.1 202.6L346.0 202.6L344.9 202.6L343.8 202.6L342.7 202.6L341.6 202.6L340.6 202.6L339.5 202.6L338.4 202.6L337.3 202.6L336.2 202.6L335.1 202.6L334.0 202.6L333.0 202.6L331.9 202.6L330.8 202.6L329.7 202.6L328.6 202.6L327.5 202.6L326.5 202.6L325.4 202.6L324.3 202.6L323.2 202.6L323.2 203.1L324.3 203.6L324.6 203.7L325.4 204.5L325.9 204.8L326.5 205.4L327.1 205.9L327.5 206.3L328.4 207.0L328.6 207.2L329.7 208.0L329.7 208.1L330.8 209.0L331.0 209.1L331.9 209.9L332.3 210.2L333.0 210.8L333.6 211.3L334.0 211.7L334.8 212.4L335.1 212.6L336.1 213.5L336.2 213.6L337.3 214.5L337.4 214.6L338.4 215.4L338.7 215.7L339.5 216.3L340.0 216.7L340.6 217.2L341.3 217.8L341.6 218.1L342.6 218.9L342.7 219.0L343.8 220.0L343.9 220.0L344.9 220.9L345.2 221.1L346.0 221.8L346.5 222.2L347.1 222.7L347.7 223.3L348.1 223.6L349.0 224.4L349.2 224.5L350.3 225.4L350.3 225.5L351.4 226.4L351.6 226.5L352.5 227.3L352.9 227.6L353.6 228.2L354.2 228.7L354.6 229.1L355.5 229.8L355.7 230.0L356.7 230.9L356.8 231.0L357.9 231.9L358.0 232.0L359.0 232.8L359.3 233.1L360.1 233.7L360.6 234.2L361.2 234.6L361.9 235.2L362.2 235.6L363.1 236.3L363.3 236.5L364.4 237.4L364.4 237.4L365.5 238.3L365.7 238.5L366.6 239.3L367.0 239.6L367.7 240.2L368.3 240.7L368.7 241.1L369.5 241.8L369.8 242.0L370.8 242.9L370.9 243.0L372.0 243.9L372.1 243.9L373.1 244.8L373.4 245.0L374.2 245.7L374.6 246.1L375.2 246.6L375.9 247.2L376.3 247.6L377.2 248.3L377.4 248.5L378.5 249.4L378.5 249.4L379.6 250.3L379.8 250.5L380.7 251.2L381.1 251.6L381.8 252.1L382.4 252.7L382.8 253.0L383.7 253.7L383.9 253.9L385.0 254.8L385.0 254.8L386.1 255.7L386.4 255.9L387.2 256.6L387.7 257.0L388.3 257.5L389.1 258.1L389.3 258.3L390.4 259.2L390.4 259.2L391.5 260.1L391.8 260.3L392.6 260.9L393.2 261.4L393.7 261.8L394.6 262.4L394.8 262.6L395.9 263.4L396.0 263.5L396.9 264.2L397.4 264.6L398.0 265.1L398.9 265.7L399.1 265.9L400.2 266.7L400.4 266.8L401.3 267.4L401.9 267.9L402.4 268.2L403.4 269.0L403.4 269.0L404.5 269.7L405.0 270.1L405.6 270.5L406.6 271.2L406.7 271.2L407.8 271.9L408.2 272.2L408.9 272.7L409.9 273.3L409.9 273.4L411.0 274.1L411.6 274.4L412.1 274.7L413.2 275.4L413.4 275.5L414.3 276.1L415.2 276.6L415.4 276.7L416.5 277.3L417.1 277.7L417.5 278.0L418.6 278.6L419.0 278.8L419.7 279.2L420.8 279.8L421.0 279.9L421.9 280.3L423.0 280.9L423.1 280.9L424.0 281.4L425.1 282.0L425.2 282.0L426.2 282.5L427.3 283.0L427.5 283.1L428.4 283.5L429.5 284.0L429.9 284.2L430.6 284.5L431.6 285.0L432.4 285.3L432.7 285.4L433.8 285.9L434.9 286.3L435.1 286.4L436.0 286.7L437.1 287.1L438.0 287.5L438.1 287.5L439.2 287.9L440.3 288.3L441.2 288.6L441.4 288.6L442.5 289.0L443.6 289.3L444.6 289.6L444.8 289.6L445.7 289.9L446.8 290.2L447.9 290.5L448.9 290.7L449.0 290.8L450.1 291.0L451.2 291.3L452.2 291.5L453.3 291.7L453.9 291.8L454.4 291.9L455.5 292.1L456.6 292.3L457.7 292.4L458.7 292.6L459.8 292.7L460.9 292.9L461.5 292.9Z" fill="#b2ff00"/>
<path d="M480.4 288.6L481.5 288.7L482.6 288.9L483.7 289.0L484.8 289.0L485.9 289.1L486.9 289.2L488.0 289.2L489.1 289.3L490.2 289.3L491.3 289.3L492.4 289.3L493.4 289.3L494.5 289.3L495.6 289.2L496.7 288.9L496.7 288.6L496.7 287.5L496.7 286.4L496.7 285.3L496.7 284.2L496.7 283.1L496.7 282.0L496.7 280.9L496.7 279.9L496.7 278.8L496.7 277.7L496.7 276.6L496.7 275.5L496.7 274.4L496.7 273.3L496.7 272.2L496.7 271.2L496.7 270.1L496.7 269.0L496.7 267.9L496.7 266.8L496.7 265.7L496.7 264.6L496.7 263.5L496.7 262.4L496.7 261.4L496.7 260.3L496.7 259.2L496.7 258.1L496.7 257.0L496.7 255.9L496.7 254.8L496.7 253.7L496.7 252.7L496.7 251.6L496.7 250.5L496.7 249.4L496.7 248.3L496.7 247.2L496.7 246.1L496.7 245.0L496.7 243.9L496.7 242.9L496.7 241.8L496.7 240.7L496.7 239.6L496.7 238.5L496.7 237.4L496.7 236.3L496.7 235.2L496.7 234.2L496.7 233.1L496.7 232.0L496.7 230.9L496.7 229.8L496.7 228.7L496.7 227.6L496.7 226.5L496.7 225.5L496.7 224.4L496.7 223.3L496.7 222.2L496.7 221.1L496.7 220.0L496.7 218.9L496.7 217.8L496.7 216.7L496.7 215.7L496.7 214.6L496.7 213.5L496.7 212.4L496.7 211.3L496.7 210.2L496.7 209.1L496.7 208.0L496.7 207.0L496.7 205.9L496.7 204.8L496.7 203.7L496.7 202.6L495.6 202.6L494.5 202.6L493.4 202.6L492.4 202.6L491.3 202.6L490.2 202.6L489.1 202.6L488.0 202.6L486.9 202.6L485.9 202.6L484.8 202.6L483.7 202.6L482.6 202.6L481.5 202.6L480.4 202.6L479.4 202.6L478.3 202.6L477.2 202.6L476.1 202.6L475.0 202.6L473.9 202.6L472.8 202.6L471.8 202.6L470.7 202.6L469.6 202.6L468.5 202.6L467.4 202.6L466.3 202.6L465.3 202.6L464.2 202.6L463.1 202.6L462.0 202.6L460.9 202.6L459.8 202.6L458.7 202.6L457.7 202.6L456.6 202.6L455.5 202.6L454.4 202.6L453.3 202.6L452.2 202.6L451.2 202.6L450.1 202.6L449.0 202.6L447.9 202.6L446.8 202.6L445.7 202.6L444.6 202.6L443.6 202.6L442.5 202.6L441.4 202.6L440.3 202.6L439.2 202.6L438.1 202.6L437.1 202.6L436.0 202.6L434.9 202.6L433.8 202.6L432.7 202.6L431.6 202.6L430.6 202.6L429.5 202.6L428.4 202.6L427.3 202.6L426.2 202.6L425.1 202.6L424.0 202.6L423.0 202.6L421.9 202.6L420.8 202.6L419.7 202.6L418.6 202.6L417.5 202.6L416.5 202.6L415.4 202.6L414.3 202.6L413.2 202.6L412.1 202.6L411.0 202.6L409.9 202.6L408.9 202.6L407.8 202.6L406.7 202.6L405.6 202.6L404.5 202.6L403.4 202.6L402.4 202.6L401.3 202.6L400.2 202.6L399.1 202.6L398.0 202.6L396.9 202.6L395.9 202.6L394.8 202.6L393.7 202.6L392.6 202.6L391.5 202.6L390.4 202.6L389.3 202.6L388.3 202.6L387.2 202.6L386.1 202.6L385.0 202.6L383.9 202.6L382.8 202.6L381.8 202.6L380.7 202.6L379.6 202.6L378.5 202.6L377.4 202.6L376.3 202.6L375.2 202.6L374.2 202.6L373.1 202.6L372.0 202.6L370.9 202.6L369.8 202.6L368.7 202.6L367.7 202.6L366.6 202.6L365.5 202.6L364.4 202.6L363.3 202.6L362.2 202.6L361.2 202.6L360.1 202.6L359.0 202.6L357.9 202.6L356.8 202.6L355.7 202.6L354.6 202.6L353.6 202.6L352.5 202.6L351.4 202.6L350.3 202.6L349.2 202.6L348.1 202.6L347.1 202.6L346.0 202.6L344.9 202.6L343.8 202.6L342.7 202.6L341.6 202.6L340.6 202.6L339.5 202.6L338.4 202.6L337.3 202.6L336.2 202.6L335.1 202.6L334.0 202.6L333.0 202.6L331.9 202.6L330.8 202.6L329.7 202.6L328.6 202.6L327.5 202.6L326.5 202.6L325.4 202.6L324.3 202.6L323.2 202.6L323.2 203.0L324.3 203.3L325.2 203.7L325.4 203.9L326.5 204.5L327.0 204.8L327.5 205.1L328.6 205.7L328.9 205.9L329.7 206.4L330.7 207.0L330.8 207.0L331.9 207.6L332.6 208.0L333.0 208.3L334.0 208.9L334.5 209.1L335.1 209.5L336.2 210.1L336.4 210.2L337.3 210.8L338.2 211.3L338.4 211.4L339.5 212.0L340.1 212.4L340.6 212.7L341.6 213.3L342.0 213.5L342.7 213.9L343.8 214.5L343.9 214.6L344.9 215.2L345.7 215.7L346.0 215.8L347.1 216.4L347.6 216.7L348.1 217.1L349.2 217.7L349.5 217.8L350.3 218.3L351.3 218.9L351.4 219.0L352.5 219.6L353.2 220.0L353.6 220.2L354.6 220.9L355.0 221.1L355.7 221.5L356.8 222.2L356.9 222.2L357.9 222.8L358.7 223.3L359.0 223.4L360.1 224.1L360.5 224.4L361.2 224.7L362.2 225.4L362.4 225.5L363.3 226.0L364.2 226.5L364.4 226.7L365.5 227.3L366.0 227.6L366.6 228.0L367.7 228.7L367.7 228.7L368.7 229.3L369.5 229.8L369.8 230.0L370.9 230.7L371.3 230.9L372.0 231.4L373.0 232.0L373.1 232.0L374.2 232.7L374.7 233.1L375.2 233.4L376.3 234.1L376.4 234.2L377.4 234.8L378.1 235.2L378.5 235.5L379.6 236.2L379.8 236.3L380.7 236.9L381.4 237.4L381.8 237.6L382.8 238.4L383.1 238.5L383.9 239.1L384.7 239.6L385.0 239.8L386.1 240.6L386.3 240.7L387.2 241.3L387.9 241.8L388.3 242.1L389.3 242.8L389.4 242.9L390.4 243.6L391.0 243.9L391.5 244.3L392.5 245.0L392.6 245.1L393.7 245.9L394.1 246.1L394.8 246.6L395.6 247.2L395.9 247.4L396.9 248.2L397.1 248.3L398.0 248.9L398.6 249.4L399.1 249.7L400.2 250.5L400.2 250.5L401.3 251.3L401.7 251.6L402.4 252.1L403.2 252.7L403.4 252.8L404.5 253.6L404.7 253.7L405.6 254.4L406.2 254.8L406.7 255.2L407.8 255.9L407.8 255.9L408.9 256.7L409.3 257.0L409.9 257.5L410.9 258.1L411.0 258.2L412.1 259.0L412.4 259.2L413.2 259.7L414.0 260.3L414.3 260.5L415.4 261.2L415.6 261.4L416.5 262.0L417.2 262.4L417.5 262.7L418.6 263.4L418.8 263.5L419.7 264.1L420.5 264.6L420.8 264.8L421.9 265.5L422.2 265.7L423.0 266.2L423.9 266.8L424.0 266.9L425.1 267.6L425.6 267.9L426.2 268.3L427.3 268.9L427.4 269.0L428.4 269.6L429.2 270.1L429.5 270.2L430.6 270.8L431.1 271.2L431.6 271.5L432.7 272.1L433.0 272.2L433.8 272.7L434.9 273.3L435.0 273.3L436.0 273.9L437.0 274.4L437.1 274.5L438.1 275.0L439.1 275.5L439.2 275.6L440.3 276.1L441.3 276.6L441.4 276.7L442.5 277.2L443.5 277.7L443.6 277.7L444.6 278.2L445.7 278.7L445.9 278.8L446.8 279.2L447.9 279.7L448.4 279.9L449.0 280.1L450.1 280.6L451.0 280.9L451.2 281.0L452.2 281.4L453.3 281.9L453.8 282.0L454.4 282.3L455.5 282.7L456.6 283.1L456.8 283.1L457.7 283.4L458.7 283.8L459.8 284.1L460.1 284.2L460.9 284.5L462.0 284.8L463.1 285.1L463.7 285.3L464.2 285.4L465.3 285.7L466.3 286.0L467.4 286.3L467.9 286.4L468.5 286.5L469.6 286.8L470.7 287.0L471.8 287.2L472.8 287.5L472.9 287.5L473.9 287.7L475.0 287.8L476.1 288.0L477.2 288.2L478.3 288.3L479.4 288.5L479.9 288.6Z" fill="#ffff00"/>
<path d="M493.4 288.6L494.5 288.8L495.6 289.0L496.7 288.8L496.7 288.6L496.7 287.5L496.7 286.4L496.7 285.3L496.7 284.2L496.7 283.1L496.7 282.0L496.7 280.9L496.7 279.9L496.7 278.8L496.7 277.7L496.7 276.6L496.7 275.5L496.7 274.4L496.7 273.3L496.7 272.2L496.7 271.2L496.7 270.1L496.7 269.0L496.7 267.9L496.7 266.8L496.7 265.7L496.7 264.6L496.7 263.5L496.7 262.4L496.7 261.4L496.7 260.3L496.7 259.2L496.7 258.1L496.7 257.0L496.7 255.9L496.7 254.8L496.7 253.7L496.7 252.7L496.7 251.6L496.7 250.5L496.7 249.4L496.7 248.3L496.7 247.2L496.7 246.1L496.7 245.0L496.7 243.9L496.7 242.9L496.7 241.8L496.7 240.7L496.7 239.6L496.7 238.5L496.7 237.4L496.7 236.3L496.7 235.2L496.7 234.2L496.7 233.1L496.7 232.0L496.7 230.9L496.7 229.8L496.7 228.7L496.7 227.6L496.7 226.5L496.7 225.5L496.7 224.4L496.7 223.3L496.7 222.2L496.7 221.1L496.7 220.0L496.7 218.9L496.7 217.8L496.7 216.7L496.7 215.7L496.7 214.6L496.7 213.5L496.7 212.4L496.7 211.3L496.7 210.2L496.7 209.1L496.7 208.0L496.7 207.0L496.7 205.9L496.7 204.8L496.7 203.7L496.7 202.6L495.6 202.6L494.5 202.6L493.4 202.6L492.4 202.6L491.3 202.6L490.2 202.6L489.1 202.6L488.0 202.6L486.9 202.6L485.9 202.6L484.8 202.6L483.7 202.6L482.6 202.6L481.5 202.6L480.4 202.6L479.4 202.6L478.3 202.6L477.2 202.6L476.1 202.6L475.0 202.6L473.9 202.6L472.8 202.6L471.8 202.6L470.7 202.6L469.6 202.6L468.5 202.6L467.4 202.6L466.3 202.6L465.3 202.6L464.2 202.6L463.1 202.6L462.0 202.6L460.9 202.6L459.8 202.6L458.7 202.6L457.7 202.6L456.6 202.6L455.5 202.6L454.4 202.6L453.3 202.6L452.2 202.6L451.2 202.6L450.1 202.6L449.0 202.6L447.9 202.6L446.8 202.6L445.7 202.6L444.6 202.6L443.6 202.6L442.5 202.6L441.4 202.6L440.3 202.6L439.2 202.6L438.1 202.6L437.1 202.6L436.0 202.6L434.9 202.6L433.8 202.6L432.7 202.6L431.6 202.6L430.6 202.6L429.5 202.6L428.4 202.6L427.3 202.6L426.2 202.6L425.1 202.6L424.0 202.6L423.0 202.6L421.9 202.6L420.8 202.6L419.7 202.6L418.6 202.6L417.5 202.6L416.5 202.6L415.4 202.6L414.3 202.6L413.2 202.6L412.1 202.6L411.0 202.6L409.9 202.6L408.9 202.6L407.8 202.6L406.7 202.6L405.6 202.6L404.5 202.6L403.4 202.6L402.4 202.6L401.3 202.6L400.2 202.6L399.1 202.6L398.0 202.6L396.9 202.6L395.9 202.6L394.8 202.6L393.7 202.6L392.6 202.6L391.5 202.6L390.4 202.6L389.3 202.6L388.3 202.6L387.2 202.6L386.1 202.6L385.0 202.6L383.9 202.6L382.8 202.6L381.8 202.6L380.7 202.6L379.6 202.6L378.5 202.6L377.4 202.6L376.3 202.6L375.2 202.6L374.2 202.6L373.1 202.6L372.0 202.6L370.9 202.6L369.8 202.6L368.7 202.6L367.7 202.6L366.6 202.6L365.5 202.6L364.4 202.6L363.3 202.6L362.2 202.6L361.2 202.6L360.1 202.6L359.0 202.6L357.9 202.6L356.8 202.6L355.7 202.6L354.6 202.6L353.6 202.6L352.5 202.6L351.4 202.6L350.3 202.6L349.2 202.6L348.1 202.6L347.1 202.6L346.0 202.6L344.9 202.6L343.8 202.6L342.7 202.6L341.6 202.6L340.6 202.6L339.5 202.6L338.4 202.6L337.3 202.6L336.2 202.6L335.1 202.6L334.0 202.6L333.0 202.6L331.9 202.6L330.8 202.6L329.7 202.6L328.6 202.6L327.5 202.6L326.5 202.6L325.4 202.6L324.3 202.6L323.2 202.6L323.2 202.8L324.3 203.1L325.4 203.4L326.3 203.7L326.5 203.8L327.5 204.2L328.6 204.6L329.2 204.8L329.7 205.0L330.8 205.4L331.9 205.8L332.2 205.9L333.0 206.2L334.0 206.6L335.1 206.9L335.1 207.0L336.2 207.4L337.3 207.7L338.1 208.0L338.4 208.1L339.5 208.5L340.6 208.9L341.1 209.1L341.6 209.3L342.7 209.7L343.8 210.1L344.1 210.2L344.9 210.5L346.0 210.9L347.0 211.3L347.1 211.3L348.1 211.7L349.2 212.1L350.0 212.4L350.3 212.5L351.4 212.9L352.5 213.3L352.9 213.5L353.6 213.7L354.6 214.1L355.7 214.5L355.8 214.6L356.8 214.9L357.9 215.3L358.8 215.7L359.0 215.7L360.1 216.2L361.2 216.6L361.6 216.7L362.2 217.0L363.3 217.4L364.4 217.8L364.5 217.8L365.5 218.2L366.6 218.7L367.3 218.9L367.7 219.1L368.7 219.5L369.8 219.9L370.0 220.0L370.9 220.4L372.0 220.8L372.7 221.1L373.1 221.3L374.2 221.7L375.2 222.2L375.3 222.2L376.3 222.6L377.4 223.1L377.9 223.3L378.5 223.6L379.6 224.0L380.3 224.4L380.7 224.5L381.8 225.0L382.7 225.5L382.8 225.5L383.9 226.0L385.0 226.5L385.0 226.5L386.1 227.1L387.2 227.6L387.2 227.6L388.3 228.2L389.3 228.7L389.3 228.7L390.4 229.3L391.4 229.8L391.5 229.9L392.6 230.5L393.3 230.9L393.7 231.1L394.8 231.7L395.2 232.0L395.9 232.3L396.9 233.0L397.1 233.1L398.0 233.6L398.9 234.2L399.1 234.3L400.2 235.0L400.6 235.2L401.3 235.7L402.3 236.3L402.4 236.4L403.4 237.1L403.9 237.4L404.5 237.8L405.6 238.5L405.6 238.5L406.7 239.3L407.1 239.6L407.8 240.0L408.7 240.7L408.9 240.8L409.9 241.6L410.2 241.8L411.0 242.3L411.8 242.9L412.1 243.1L413.2 243.9L413.3 243.9L414.3 244.7L414.8 245.0L415.4 245.5L416.2 246.1L416.5 246.3L417.5 247.1L417.7 247.2L418.6 247.9L419.2 248.3L419.7 248.7L420.7 249.4L420.8 249.5L421.9 250.3L422.1 250.5L423.0 251.1L423.6 251.6L424.0 251.9L425.1 252.7L425.1 252.7L426.2 253.5L426.6 253.7L427.3 254.3L428.1 254.8L428.4 255.0L429.5 255.8L429.6 255.9L430.6 256.6L431.1 257.0L431.6 257.4L432.6 258.1L432.7 258.2L433.8 258.9L434.2 259.2L434.9 259.7L435.7 260.3L436.0 260.4L437.1 261.2L437.3 261.4L438.1 261.9L438.9 262.4L439.2 262.7L440.3 263.4L440.5 263.5L441.4 264.1L442.2 264.6L442.5 264.8L443.6 265.5L443.8 265.7L444.6 266.2L445.5 266.8L445.7 266.9L446.8 267.6L447.2 267.9L447.9 268.3L449.0 269.0L449.0 269.0L450.1 269.6L450.8 270.1L451.2 270.3L452.2 270.9L452.6 271.2L453.3 271.6L454.4 272.2L454.5 272.2L455.5 272.8L456.4 273.3L456.6 273.4L457.7 274.0L458.4 274.4L458.7 274.6L459.8 275.2L460.4 275.5L460.9 275.7L462.0 276.3L462.5 276.6L463.1 276.9L464.2 277.4L464.7 277.7L465.3 277.9L466.3 278.5L467.0 278.8L467.4 279.0L468.5 279.5L469.3 279.9L469.6 280.0L470.7 280.5L471.7 280.9L471.8 281.0L472.8 281.4L473.9 281.9L474.3 282.0L475.0 282.3L476.1 282.8L477.0 283.1L477.2 283.2L478.3 283.6L479.4 284.0L479.8 284.2L480.4 284.4L481.5 284.8L482.6 285.2L482.8 285.3L483.7 285.6L484.8 286.0L485.9 286.3L486.1 286.4L486.9 286.7L488.0 287.0L489.1 287.3L489.5 287.5L490.2 287.6L491.3 288.0L492.4 288.3L493.4 288.6Z" fill="#ffb200"/>
<path d="M495.6 288.8L496.7 288.7L496.7 288.6L496.7 287.5L496.7 286.4L496.7 285.3L496.7 284.2L496.7 283.1L496.7 282.0L496.7 280.9L496.7 279.9L496.7 278.8L496.7 277.7L496.7 276.6L496.7 275.5L496.7 274.4L496.7 273.3L496.7 272.2L496.7 271.2L496.7 270.1L496.7 269.0L496.7 267.9L496.7 266.8L496.7 265.7L496.7 264.6L496.7 263.5L496.7 262.4L496.7 261.4L496.7 260.3L496.7 259.2L496.7 258.1L496.7 257.0L496.7 255.9L496.7 254.8L496.7 253.7L496.7 252.7L496.7 251.6L496.7 250.5L496.7 249.4L496.7 248.3L496.7 247.2L496.7 246.1L496.7 245.0L496.7 243.9L496.7 242.9L496.7 241.8L496.7 240.7L496.7 239.6L496.7 238.5L496.7 237.4L496.7 236.3L496.7 235.2L496.7 234.2L496.7 233.1L496.7 232.0L496.7 230.9L496.7 229.8L496.7 228.7L496.7 227.6L496.7 226.5L496.7 225.5L496.7 224.4L496.7 223.3L496.7 222.2L496.7 221.1L496.7 220.0L496.7 218.9L496.7 217.8L496.7 216.7L496.7 215.7L496.7 214.6L496.7 213.5L496.7 212.4L496.7 211.3L496.7 210.2L496.7 209.1L496.7 208.0L496.7 207.0L496.7 205.9L496.7 204.8L496.7 203.7L496.7 202.6L495.6 202.6L494.5 202.6L493.4 202.6L492.4 202.6L491.3 202.6L490.2 202.6L489.1 202.6L488.0 202.6L486.9 202.6L485.9 202.6L484.8 202.6L483.7 202.6L482.6 202.6L481.5 202.6L480.4 202.6L479.4 202.6L478.3 202.6L477.2 202.6L476.1 202.6L475.0 202.6L473.9 202.6L472.8 202.6L471.8 202.6L470.7 202.6L469.6 202.6L468.5 202.6L467.4 202.6L466.3 202.6L465.3 202.6L464.2 202.6L463.1 202.6L462.0 202.6L460.9 202.6L459.8 202.6L458.7 202.6L457.7 202.6L456.6 202.6L455.5 202.6L454.4 202.6L453.3 202.6L452.2 202.6L451.2 202.6L450.1 202.6L449.0 202.6L447.9 202.6L446.8 202.6L445.7 202.6L444.6 202.6L443.6 202.6L442.5 202.6L441.4 202.6L440.3 202.6L439.2 202.6L438.1 202.6L437.1 202.6L436.0 202.6L434.9 202.6L433.8 202.6L432.7 202.6L431.6 202.6L430.6 202.6L429.5 202.6L428.4 202.6L427.3 202.6L426.2 202.6L425.1 202.6L424.0 202.6L423.0 202.6L421.9 202.6L420.8 202.6L419.7 202.6L418.6 202.6L417.5 202.6L416.5 202.6L415.4 202.6L414.3 202.6L413.2 202.6L412.1 202.6L411.0 202.6L409.9 202.6L408.9 202.6L407.8 202.6L406.7 202.6L405.6 202.6L404.5 202.6L403.4 202.6L402.4 202.6L401.3 202.6L400.2 202.6L399.1 202.6L398.0 202.6L396.9 202.6L395.9 202.6L394.8 202.6L393.7 202.6L392.6 202.6L391.5 202.6L390.4 202.6L389.3 202.6L388.3 202.6L387.2 202.6L386.1 202.6L385.0 202.6L383.9 202.6L382.8 202.6L381.8 202.6L380.7 202.6L379.6 202.6L378.5 202.6L377.4 202.6L376.3 202.6L375.2 202.6L374.2 202.6L373.1 202.6L372.0 202.6L370.9 202.6L369.8 202.6L368.7 202.6L367.7 202.6L366.6 202.6L365.5 202.6L364.4 202.6L363.3 202.6L362.2 202.6L361.2 202.6L360.1 202.6L359.0 202.6L357.9 202.6L356.8 202.6L355.7 202.6L354.6 202.6L353.6 202.6L352.5 202.6L351.4 202.6L350.3 202.6L349.2 202.6L348.1 202.6L347.1 202.6L346.0 202.6L344.9 202.6L343.8 202.6L342.7 202.6L341.6 202.6L340.6 202.6L339.5 202.6L338.4 202.6L337.3 202.6L336.2 202.6L335.1 202.6L334.0 202.6L333.0 202.6L331.9 202.6L330.8 202.6L329.7 202.6L328.6 202.6L327.5 202.6L326.5 202.6L325.4 202.6L324.3 202.6L323.2 202.6L323.2 202.7L324.3 202.8L325.4 203.0L326.5 203.2L327.5 203.4L328.6 203.6L329.4 203.7L329.7 203.7L330.8 203.9L331.9 204.1L333.0 204.3L334.0 204.5L335.1 204.7L335.5 204.8L336.2 204.9L337.3 205.1L338.4 205.3L339.5 205.5L340.6 205.7L341.6 205.9L341.7 205.9L342.7 206.1L343.8 206.2L344.9 206.4L346.0 206.6L347.1 206.8L347.8 207.0L348.1 207.0L349.2 207.2L350.3 207.4L351.4 207.6L352.5 207.8L353.6 208.0L353.9 208.0L354.6 208.2L355.7 208.4L356.8 208.6L357.9 208.8L359.0 209.0L359.9 209.1L360.1 209.2L361.2 209.4L362.2 209.6L363.3 209.8L364.4 210.0L365.5 210.2L365.7 210.2L366.6 210.4L367.7 210.6L368.7 210.8L369.8 211.0L370.9 211.2L371.3 211.3L372.0 211.4L373.1 211.7L374.2 211.9L375.2 212.1L376.3 212.3L376.6 212.4L377.4 212.6L378.5 212.8L379.6 213.0L380.7 213.3L381.5 213.5L381.8 213.5L382.8 213.8L383.9 214.1L385.0 214.3L385.9 214.6L386.1 214.6L387.2 214.9L388.3 215.2L389.3 215.5L389.9 215.7L390.4 215.8L391.5 216.2L392.6 216.5L393.3 216.7L393.7 216.9L394.8 217.3L395.9 217.6L396.3 217.8L396.9 218.1L398.0 218.5L399.0 218.9L399.1 219.0L400.2 219.4L401.3 220.0L401.4 220.0L402.4 220.5L403.4 221.0L403.5 221.1L404.5 221.6L405.5 222.2L405.6 222.2L406.7 222.9L407.4 223.3L407.8 223.5L408.9 224.2L409.1 224.4L409.9 224.9L410.7 225.5L411.0 225.7L412.1 226.4L412.3 226.5L413.2 227.2L413.8 227.6L414.3 228.0L415.3 228.7L415.4 228.8L416.5 229.6L416.7 229.8L417.5 230.4L418.1 230.9L418.6 231.3L419.5 232.0L419.7 232.1L420.8 233.0L420.9 233.1L421.9 233.9L422.2 234.2L423.0 234.8L423.5 235.2L424.0 235.7L424.9 236.3L425.1 236.6L426.2 237.4L426.2 237.5L427.3 238.4L427.5 238.5L428.4 239.3L428.8 239.6L429.5 240.2L430.1 240.7L430.6 241.1L431.4 241.8L431.6 242.0L432.6 242.9L432.7 242.9L433.8 243.8L433.9 243.9L434.9 244.8L435.2 245.0L436.0 245.7L436.5 246.1L437.1 246.6L437.8 247.2L438.1 247.5L439.1 248.3L439.2 248.4L440.3 249.3L440.4 249.4L441.4 250.2L441.7 250.5L442.5 251.1L443.0 251.6L443.6 252.0L444.3 252.7L444.7 252.9L445.7 253.7L445.7 253.8L446.8 254.7L447.0 254.8L447.9 255.6L448.3 255.9L449.0 256.5L449.7 257.0L450.1 257.3L451.0 258.1L451.2 258.2L452.2 259.1L452.4 259.2L453.3 259.9L453.7 260.3L454.4 260.8L455.1 261.4L455.5 261.6L456.5 262.4L456.6 262.5L457.7 263.3L457.9 263.5L458.7 264.2L459.3 264.6L459.8 265.0L460.8 265.7L460.9 265.8L462.0 266.6L462.2 266.8L463.1 267.5L463.6 267.9L464.2 268.3L465.1 269.0L465.3 269.1L466.3 269.9L466.6 270.1L467.4 270.7L468.1 271.2L468.5 271.4L469.6 272.2L469.6 272.2L470.7 273.0L471.2 273.3L471.8 273.7L472.7 274.4L472.8 274.5L473.9 275.3L474.3 275.5L475.0 276.0L475.9 276.6L476.1 276.7L477.2 277.5L477.5 277.7L478.3 278.2L479.1 278.8L479.4 278.9L480.4 279.6L480.8 279.9L481.5 280.3L482.5 280.9L482.6 281.0L483.7 281.7L484.2 282.0L484.8 282.4L485.9 283.1L485.9 283.1L486.9 283.7L487.7 284.2L488.0 284.4L489.1 285.1L489.4 285.3L490.2 285.7L491.3 286.4L491.3 286.4L492.4 287.0L493.1 287.5L493.4 287.6L494.5 288.2L494.9 288.6Z" fill="#ff0000"/>
<rect x="323" y="202" width="175" height="176" fill="#000" opacity="0.27"/>
<rect x="323" y="202" width="175" height="176" fill="url(#mesh)"/>
</g>
<g font-family="'Liberation Sans', sans-serif" font-size="3.7" fill="#141432">
<text x="280.1" y="201.9" font-weight="bold" textLength="39.5" lengthAdjust="spacingAndGlyphs">B: Steady-State Thermal</text>
<text x="280.1" y="206.20" textLength="20" lengthAdjust="spacingAndGlyphs">Temperature</text>
<text x="280.1" y="210.55" textLength="28.6" lengthAdjust="spacingAndGlyphs">Type: Temperature</text>
<text x="280.1" y="214.90" textLength="11.8" lengthAdjust="spacingAndGlyphs">Unit: °C</text>
<text x="280.1" y="219.25" textLength="11.4" lengthAdjust="spacingAndGlyphs">Time: 1 s</text>
<text x="280.1" y="223.60" textLength="30" lengthAdjust="spacingAndGlyphs">30/11/2023 3:09 pm</text>
</g>
<rect x="280.4" y="230.50" width="4.4" height="4.88" fill="#ff0000"/>
<rect x="280.4" y="235.38" width="4.4" height="4.88" fill="#ffb200"/>
<rect x="280.4" y="240.26" width="4.4" height="4.88" fill="#ffff00"/>
<rect x="280.4" y="245.14" width="4.4" height="4.88" fill="#b2ff00"/>
<rect x="280.4" y="250.02" width="4.4" height="4.88" fill="#00ff00"/>
<rect x="280.4" y="254.90" width="4.4" height="4.88" fill="#00ffb2"/>
<rect x="280.4" y="259.78" width="4.4" height="4.88" fill="#00ffff"/>
<rect x="280.4" y="264.66" width="4.4" height="4.88" fill="#00b2ff"/>
<rect x="280.4" y="269.54" width="4.4" height="4.88" fill="#0000ff"/>
<rect x="280.4" y="230.5" width="4.4" height="43.9" fill="none" stroke="#223" stroke-width="0.4"/>
<g font-family="'Liberation Sans', sans-serif" font-size="3.3" fill="#141432">
<text x="287.9" y="231.60" font-weight="bold" textLength="13.3" lengthAdjust="spacingAndGlyphs">100 Max</text>
<text x="287.9" y="236.48" textLength="9.5" lengthAdjust="spacingAndGlyphs">91.556</text>
<text x="287.9" y="241.36" textLength="9.5" lengthAdjust="spacingAndGlyphs">83.111</text>
<text x="287.9" y="246.24" textLength="9.5" lengthAdjust="spacingAndGlyphs">74.667</text>
<text x="287.9" y="251.12" textLength="9.5" lengthAdjust="spacingAndGlyphs">66.222</text>
<text x="287.9" y="256.00" textLength="9.5" lengthAdjust="spacingAndGlyphs">57.778</text>
<text x="287.9" y="260.88" textLength="9.5" lengthAdjust="spacingAndGlyphs">49.333</text>
<text x="287.9" y="265.76" textLength="9.5" lengthAdjust="spacingAndGlyphs">40.889</text>
<text x="287.9" y="270.64" textLength="9.5" lengthAdjust="spacingAndGlyphs">32.444</text>
<text x="287.9" y="275.52" font-weight="bold" textLength="10.5" lengthAdjust="spacingAndGlyphs">24 Min</text>
</g>
<rect x="367.4" y="371.3" width="21.2" height="3.6" fill="#000"/>
<rect x="409.5" y="371.3" width="22.8" height="3.6" fill="#000"/>
<rect x="367.4" y="371.3" width="86" height="3.6" fill="none" stroke="#000" stroke-width="0.3" opacity="0.6"/>
<g font-family="'Liberation Sans', sans-serif" font-size="3.6" fill="#111" text-anchor="middle"><text x="388.6" y="380.2">0.025</text><text x="431.4" y="380.2">0.075</text></g>
<g font-family="'Liberation Sans', sans-serif" font-size="3.2" fill="#000" opacity="0.55" text-anchor="middle"><text x="367.4" y="369.6">0.000</text><text x="410" y="369.6">0.050</text><text x="452" y="369.6">0.100 (m)</text></g>
<text x="542.4" y="204.6" font-family="'Liberation Sans', sans-serif" font-weight="bold" font-size="10.5" fill="#fff" text-anchor="end" textLength="32.5" lengthAdjust="spacingAndGlyphs">Λnsys</text>
<text x="541.8" y="211.6" font-family="'Liberation Sans', sans-serif" font-weight="bold" font-size="5.2" fill="#fff" text-anchor="end" textLength="19.6" lengthAdjust="spacingAndGlyphs">2023 R2</text>
<rect x="509.9" y="213.2" width="32.3" height="0.5" fill="#fff"/>
<text x="511.8" y="220" font-family="'Liberation Sans', sans-serif" font-weight="bold" font-size="5.4" fill="#fff" textLength="25.5" lengthAdjust="spacingAndGlyphs">STUDENT</text>
<line x1="520.8" y1="364.8" x2="520.8" y2="351" stroke="#1a9a2a" stroke-width="0.9"/>
<path d="M520.8 349.5l-1.3 3h2.6z" fill="#1a9a2a"/>
<line x1="520.8" y1="364.8" x2="534" y2="364.8" stroke="#d03030" stroke-width="0.9"/>
<path d="M536 364.8l-3 -1.3v2.6z" fill="#d03030"/>
<circle cx="520.8" cy="364.8" r="1.3" fill="#1020a0"/>
<circle cx="528.4" cy="357.2" r="1.1" fill="#20b0b0"/>
<text x="520.2" y="345" font-family="'Liberation Sans', sans-serif" font-size="3" fill="#3a3">y</text>
<text x="539.5" y="366" font-family="'Liberation Sans', sans-serif" font-size="3" fill="#c33">x</text>
</svg>
</body></html>
